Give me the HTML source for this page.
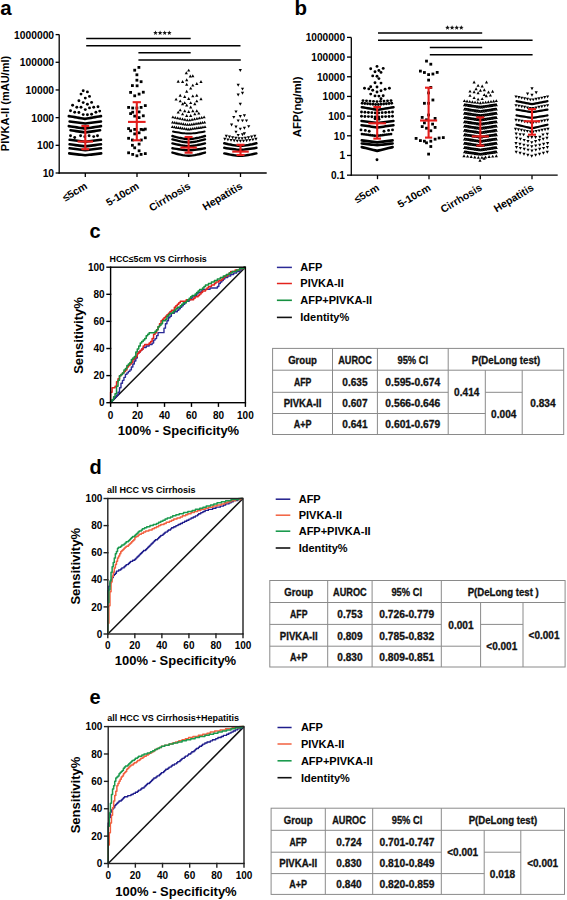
<!DOCTYPE html>
<html><head><meta charset="utf-8"><style>
html,body{margin:0;padding:0;background:#fff;}
body{width:567px;height:900px;overflow:hidden;}
svg{display:block;font-family:"Liberation Sans", sans-serif;}
</style></head><body>
<svg width="567" height="900" viewBox="0 0 567 900">
<text x="0.3" y="14.9" font-size="20.5" font-weight="bold" text-anchor="start" fill="#000" >a</text><text x="294.6" y="14.9" font-size="20.5" font-weight="bold" text-anchor="start" fill="#000" >b</text><text x="89.6" y="237.6" font-size="20" font-weight="bold" text-anchor="start" fill="#000" >c</text><text x="89.6" y="473.7" font-size="20" font-weight="bold" text-anchor="start" fill="#000" >d</text><text x="89.6" y="704.4" font-size="20" font-weight="bold" text-anchor="start" fill="#000" >e</text><g stroke="#000" stroke-width="1.3" fill="none"><line x1="59.2" y1="34.6" x2="59.2" y2="173.65"/><line x1="58.550000000000004" y1="173.0" x2="266.7" y2="173.0"/><line x1="55.6" y1="34.6" x2="59.2" y2="34.6"/><line x1="55.6" y1="62.28" x2="59.2" y2="62.28"/><line x1="55.6" y1="89.96" x2="59.2" y2="89.96"/><line x1="55.6" y1="117.64" x2="59.2" y2="117.64"/><line x1="55.6" y1="145.32" x2="59.2" y2="145.32"/><line x1="55.6" y1="173" x2="59.2" y2="173"/><line x1="85.3" y1="173.0" x2="85.3" y2="177.0"/><line x1="137" y1="173.0" x2="137" y2="177.0"/><line x1="188.6" y1="173.0" x2="188.6" y2="177.0"/><line x1="240.5" y1="173.0" x2="240.5" y2="177.0"/></g><text x="54.1" y="38.5" font-size="10.3" font-weight="bold" text-anchor="end" fill="#000" >1000000</text><text x="54.1" y="66.18" font-size="10.3" font-weight="bold" text-anchor="end" fill="#000" >100000</text><text x="54.1" y="93.86" font-size="10.3" font-weight="bold" text-anchor="end" fill="#000" >10000</text><text x="54.1" y="121.54" font-size="10.3" font-weight="bold" text-anchor="end" fill="#000" >1000</text><text x="54.1" y="149.22" font-size="10.3" font-weight="bold" text-anchor="end" fill="#000" >100</text><text x="54.1" y="176.9" font-size="10.3" font-weight="bold" text-anchor="end" fill="#000" >10</text><text x="9.2" y="103.5" font-size="11" font-weight="bold" text-anchor="middle" fill="#000" transform="rotate(-90 9.2 103.5)">PIVKA-II (mAU/ml)</text><text x="88.1" y="187.9" font-size="10.5" font-weight="bold" text-anchor="end" fill="#000" transform="rotate(-31 88.1 187.9)">≤5cm</text><text x="139.8" y="187.9" font-size="10.5" font-weight="bold" text-anchor="end" fill="#000" transform="rotate(-31 139.8 187.9)">5-10cm</text><text x="191.4" y="187.9" font-size="10.5" font-weight="bold" text-anchor="end" fill="#000" transform="rotate(-31 191.4 187.9)">Cirrhosis</text><text x="243.3" y="187.9" font-size="10.5" font-weight="bold" text-anchor="end" fill="#000" transform="rotate(-31 243.3 187.9)">Hepatitis</text><g stroke="#000" stroke-width="1.5"><line x1="86.2" y1="38.6" x2="190.7" y2="38.6"/><line x1="86.2" y1="45.8" x2="240.5" y2="45.8"/><line x1="138.4" y1="52.8" x2="190.7" y2="52.8"/><line x1="138.4" y1="60.0" x2="240.8" y2="60.0"/></g><polygon points="155.5,30.45 156.12,32.05 157.83,32.14 156.5,33.22 156.94,34.88 155.5,33.95 154.06,34.88 154.5,33.22 153.17,32.14 154.88,32.05" fill="#111"/><polygon points="160.1,30.45 160.72,32.05 162.43,32.14 161.1,33.22 161.54,34.88 160.1,33.95 158.66,34.88 159.1,33.22 157.77,32.14 159.48,32.05" fill="#111"/><polygon points="164.7,30.45 165.32,32.05 167.03,32.14 165.7,33.22 166.14,34.88 164.7,33.95 163.26,34.88 163.7,33.22 162.37,32.14 164.08,32.05" fill="#111"/><polygon points="169.3,30.45 169.92,32.05 171.63,32.14 170.3,33.22 170.74,34.88 169.3,33.95 167.86,34.88 168.3,33.22 166.97,32.14 168.68,32.05" fill="#111"/><g stroke="#000" stroke-width="1.3" fill="none"><line x1="351.3" y1="37.4" x2="351.3" y2="175.81"/><line x1="350.65000000000003" y1="175.16" x2="557.7" y2="175.16"/><line x1="347" y1="37.4" x2="351.3" y2="37.4"/><line x1="347" y1="57.08" x2="351.3" y2="57.08"/><line x1="347" y1="76.76" x2="351.3" y2="76.76"/><line x1="347" y1="96.44" x2="351.3" y2="96.44"/><line x1="347" y1="116.12" x2="351.3" y2="116.12"/><line x1="347" y1="135.8" x2="351.3" y2="135.8"/><line x1="347" y1="155.48" x2="351.3" y2="155.48"/><line x1="347" y1="175.16" x2="351.3" y2="175.16"/><line x1="377.5" y1="175.16" x2="377.5" y2="179.16"/><line x1="429" y1="175.16" x2="429" y2="179.16"/><line x1="480.3" y1="175.16" x2="480.3" y2="179.16"/><line x1="532" y1="175.16" x2="532" y2="179.16"/></g><text x="345" y="41.2" font-size="10.1" font-weight="bold" text-anchor="end" fill="#000" >1000000</text><text x="345" y="60.88" font-size="10.1" font-weight="bold" text-anchor="end" fill="#000" >100000</text><text x="345" y="80.56" font-size="10.1" font-weight="bold" text-anchor="end" fill="#000" >10000</text><text x="345" y="100.24" font-size="10.1" font-weight="bold" text-anchor="end" fill="#000" >1000</text><text x="345" y="119.92" font-size="10.1" font-weight="bold" text-anchor="end" fill="#000" >100</text><text x="345" y="139.6" font-size="10.1" font-weight="bold" text-anchor="end" fill="#000" >10</text><text x="345" y="159.28" font-size="10.1" font-weight="bold" text-anchor="end" fill="#000" >1</text><text x="345" y="178.96" font-size="10.1" font-weight="bold" text-anchor="end" fill="#000" >0.1</text><text x="300.6" y="106.8" font-size="11.4" font-weight="bold" text-anchor="middle" fill="#000" transform="rotate(-90 300.6 106.8)">AFP(ng/ml)</text><text x="379.9" y="189.6" font-size="10.5" font-weight="bold" text-anchor="end" fill="#000" transform="rotate(-31 379.9 189.6)">≤5cm</text><text x="431.4" y="189.6" font-size="10.5" font-weight="bold" text-anchor="end" fill="#000" transform="rotate(-31 431.4 189.6)">5-10cm</text><text x="482.7" y="189.6" font-size="10.5" font-weight="bold" text-anchor="end" fill="#000" transform="rotate(-31 482.7 189.6)">Cirrhosis</text><text x="534.4" y="189.6" font-size="10.5" font-weight="bold" text-anchor="end" fill="#000" transform="rotate(-31 534.4 189.6)">Hepatitis</text><g stroke="#000" stroke-width="1.5"><line x1="378" y1="33" x2="482.2" y2="33"/><line x1="378" y1="40.2" x2="532.6" y2="40.2"/><line x1="429.8" y1="47.6" x2="482.2" y2="47.6"/><line x1="429.8" y1="54.8" x2="532.6" y2="54.8"/></g><polygon points="447.5,25.25 448.12,26.85 449.83,26.94 448.5,28.02 448.94,29.68 447.5,28.75 446.06,29.68 446.5,28.02 445.17,26.94 446.88,26.85" fill="#111"/><polygon points="452.1,25.25 452.72,26.85 454.43,26.94 453.1,28.02 453.54,29.68 452.1,28.75 450.66,29.68 451.1,28.02 449.77,26.94 451.48,26.85" fill="#111"/><polygon points="456.7,25.25 457.32,26.85 459.03,26.94 457.7,28.02 458.14,29.68 456.7,28.75 455.26,29.68 455.7,28.02 454.37,26.94 456.08,26.85" fill="#111"/><polygon points="461.3,25.25 461.92,26.85 463.63,26.94 462.3,28.02 462.74,29.68 461.3,28.75 459.86,29.68 460.3,28.02 458.97,26.94 460.68,26.85" fill="#111"/><g fill="#000"><circle cx="83.2" cy="90.8" r="1.45"/><circle cx="87.4" cy="91.9" r="1.45"/><circle cx="81" cy="94.1" r="1.45"/><circle cx="89.5" cy="96.4" r="1.45"/><circle cx="85.3" cy="98.1" r="1.45"/><circle cx="78.9" cy="100.7" r="1.45"/><circle cx="83.2" cy="102.6" r="1.45"/><circle cx="91.6" cy="102.4" r="1.45"/><circle cx="87.4" cy="104.3" r="1.45"/><circle cx="72.6" cy="105.3" r="1.45"/><circle cx="76.8" cy="107.2" r="1.45"/><circle cx="81" cy="107.2" r="1.45"/><circle cx="89.5" cy="107.9" r="1.45"/><circle cx="93.7" cy="107.2" r="1.45"/><circle cx="98" cy="106.8" r="1.45"/><circle cx="85.3" cy="109.6" r="1.45"/><circle cx="70.5" cy="110.8" r="1.45"/><circle cx="74.7" cy="112.3" r="1.45"/><circle cx="78.9" cy="112.5" r="1.45"/><circle cx="95.9" cy="112.3" r="1.45"/><circle cx="99.7" cy="111.1" r="1.45"/><circle cx="83.2" cy="114.6" r="1.45"/><circle cx="87.4" cy="114.8" r="1.45"/><circle cx="91.6" cy="114.2" r="1.45"/><circle cx="70.5" cy="135.8" r="1.45"/><circle cx="74.7" cy="137.5" r="1.45"/><circle cx="80.6" cy="135.8" r="1.45"/><circle cx="84.8" cy="136.8" r="1.45"/><circle cx="89.1" cy="135.8" r="1.45"/><circle cx="93.7" cy="136.6" r="1.45"/><circle cx="97.5" cy="135.8" r="1.45"/><polyline points="68.8,116.1 70.81,116.45 72.83,116.8 74.84,117.15 76.85,117.5 78.86,117.85 80.88,118.2 82.89,118.55 84.9,118.9 86.91,118.55 88.92,118.2 90.94,117.85 92.95,117.5 94.96,117.15 96.97,116.8 98.99,116.45 101,116.1" fill="none" stroke="#000" stroke-width="2.6" stroke-linecap="round" stroke-linejoin="round"/><polyline points="69.6,121.5 71.56,121.75 73.52,122 75.49,122.25 77.45,122.5 79.41,122.75 81.38,123 83.34,123.25 85.3,123.5 87.26,123.25 89.22,123 91.19,122.75 93.15,122.5 95.11,122.25 97.08,122 99.04,121.75 101,121.5" fill="none" stroke="#000" stroke-width="2.6" stroke-linecap="round" stroke-linejoin="round"/><polyline points="68.8,126.1 70.81,126.41 72.83,126.72 74.84,127.04 76.85,127.35 78.86,127.66 80.88,127.97 82.89,128.29 84.9,128.6 86.91,128.29 88.92,127.97 90.94,127.66 92.95,127.35 94.96,127.04 96.97,126.72 98.99,126.41 101,126.1" fill="none" stroke="#000" stroke-width="2.6" stroke-linecap="round" stroke-linejoin="round"/><polyline points="70.5,130.3 72.35,130.56 74.2,130.83 76.05,131.09 77.9,131.35 79.75,131.61 81.6,131.88 83.45,132.14 85.3,132.4 87.15,132.14 89,131.88 90.85,131.61 92.7,131.35 94.55,131.09 96.4,130.83 98.25,130.56 100.1,130.3" fill="none" stroke="#000" stroke-width="2.6" stroke-linecap="round" stroke-linejoin="round"/><polyline points="69.6,139.8 71.56,140.04 73.52,140.28 75.49,140.51 77.45,140.75 79.41,140.99 81.38,141.22 83.34,141.46 85.3,141.7 87.26,141.46 89.22,141.22 91.19,140.99 93.15,140.75 95.11,140.51 97.08,140.28 99.04,140.04 101,139.8" fill="none" stroke="#000" stroke-width="2.6" stroke-linecap="round" stroke-linejoin="round"/><polyline points="69.6,144.3 71.56,144.56 73.52,144.83 75.49,145.09 77.45,145.35 79.41,145.61 81.38,145.88 83.34,146.14 85.3,146.4 87.26,146.14 89.22,145.88 91.19,145.61 93.15,145.35 95.11,145.09 97.08,144.83 99.04,144.56 101,144.3" fill="none" stroke="#000" stroke-width="2.6" stroke-linecap="round" stroke-linejoin="round"/><polyline points="69.6,148.3 71.56,148.54 73.52,148.78 75.49,149.01 77.45,149.25 79.41,149.49 81.38,149.72 83.34,149.96 85.3,150.2 87.26,149.96 89.22,149.72 91.19,149.49 93.15,149.25 95.11,149.01 97.08,148.78 99.04,148.54 101,148.3" fill="none" stroke="#000" stroke-width="2.6" stroke-linecap="round" stroke-linejoin="round"/><polyline points="69.2,153.4 71.2,153.64 73.2,153.88 75.2,154.11 77.2,154.35 79.2,154.59 81.2,154.83 83.2,155.06 85.2,155.3 87.2,155.06 89.2,154.83 91.2,154.59 93.2,154.35 95.2,154.11 97.2,153.88 99.2,153.64 101.2,153.4" fill="none" stroke="#000" stroke-width="2.6" stroke-linecap="round" stroke-linejoin="round"/><rect x="137.5" y="66" width="2.8" height="2.8"/><rect x="133.3" y="68.8" width="2.8" height="2.8"/><rect x="135.5" y="73.4" width="2.8" height="2.8"/><rect x="135.5" y="78.8" width="2.8" height="2.8"/><rect x="139.7" y="80.3" width="2.8" height="2.8"/><rect x="131" y="84.2" width="2.8" height="2.8"/><rect x="135.7" y="84.4" width="2.8" height="2.8"/><rect x="129.2" y="91" width="2.8" height="2.8"/><rect x="133.3" y="94.4" width="2.8" height="2.8"/><rect x="137.7" y="92.7" width="2.8" height="2.8"/><rect x="141.9" y="90.8" width="2.8" height="2.8"/><rect x="127.2" y="106" width="2.8" height="2.8"/><rect x="131.3" y="106.6" width="2.8" height="2.8"/><rect x="135.5" y="106.6" width="2.8" height="2.8"/><rect x="139.7" y="106" width="2.8" height="2.8"/><rect x="143.9" y="104.2" width="2.8" height="2.8"/><rect x="129.2" y="112.2" width="2.8" height="2.8"/><rect x="131.3" y="110.8" width="2.8" height="2.8"/><rect x="137.7" y="110.5" width="2.8" height="2.8"/><rect x="133.3" y="114.7" width="2.8" height="2.8"/><rect x="137.7" y="116.2" width="2.8" height="2.8"/><rect x="141.9" y="114.4" width="2.8" height="2.8"/><rect x="127.2" y="127.2" width="2.8" height="2.8"/><rect x="129.2" y="129.4" width="2.8" height="2.8"/><rect x="133.3" y="128" width="2.8" height="2.8"/><rect x="139.7" y="128" width="2.8" height="2.8"/><rect x="141.9" y="128.4" width="2.8" height="2.8"/><rect x="143.9" y="127.7" width="2.8" height="2.8"/><rect x="133.3" y="132.5" width="2.8" height="2.8"/><rect x="137.7" y="131.4" width="2.8" height="2.8"/><rect x="127.2" y="136.9" width="2.8" height="2.8"/><rect x="131" y="138.6" width="2.8" height="2.8"/><rect x="139.9" y="138.6" width="2.8" height="2.8"/><rect x="143.9" y="136.4" width="2.8" height="2.8"/><rect x="131" y="143.9" width="2.8" height="2.8"/><rect x="133.3" y="146.4" width="2.8" height="2.8"/><rect x="137.7" y="142.7" width="2.8" height="2.8"/><rect x="137.7" y="149.4" width="2.8" height="2.8"/><rect x="127.2" y="151.4" width="2.8" height="2.8"/><rect x="131.3" y="153" width="2.8" height="2.8"/><rect x="135.5" y="154.4" width="2.8" height="2.8"/><rect x="139.7" y="153" width="2.8" height="2.8"/><rect x="143.9" y="152.2" width="2.8" height="2.8"/><path d="M188.7 68.66L190.3 71.54L187.1 71.54Z"/><path d="M186.3 71.36L187.9 74.24L184.7 74.24Z"/><path d="M190.3 74.56L191.9 77.44L188.7 77.44Z"/><path d="M192.8 74.36L194.4 77.24L191.2 77.24Z"/><path d="M178.2 79.76L179.8 82.64L176.6 82.64Z"/><path d="M182.6 80.06L184.2 82.94L181 82.94Z"/><path d="M186.7 78.26L188.3 81.14L185.1 81.14Z"/><path d="M201 80.06L202.6 82.94L199.4 82.94Z"/><path d="M186.7 82.86L188.3 85.74L185.1 85.74Z"/><path d="M192.8 83.66L194.4 86.54L191.2 86.54Z"/><path d="M196.8 82.06L198.4 84.94L195.2 84.94Z"/><path d="M190.7 86.66L192.3 89.54L189.1 89.54Z"/><path d="M186.7 89.76L188.3 92.64L185.1 92.64Z"/><path d="M180.2 93.86L181.8 96.74L178.6 96.74Z"/><path d="M184.7 95.06L186.3 97.94L183.1 97.94Z"/><path d="M192.8 94.46L194.4 97.34L191.2 97.34Z"/><path d="M196.8 93.86L198.4 96.74L195.2 96.74Z"/><path d="M176.1 97.66L177.7 100.54L174.5 100.54Z"/><path d="M188.7 97.06L190.3 99.94L187.1 99.94Z"/><path d="M201 97.26L202.6 100.14L199.4 100.14Z"/><path d="M180.2 99.46L181.8 102.34L178.6 102.34Z"/><path d="M182.6 102.36L184.2 105.24L181 105.24Z"/><path d="M184.7 101.16L186.3 104.04L183.1 104.04Z"/><path d="M186.7 103.56L188.3 106.44L185.1 106.44Z"/><path d="M190.7 101.16L192.3 104.04L189.1 104.04Z"/><path d="M194.8 102.36L196.4 105.24L193.2 105.24Z"/><path d="M196.8 99.46L198.4 102.34L195.2 102.34Z"/><path d="M190.7 105.56L192.3 108.44L189.1 108.44Z"/><path d="M180.2 108.46L181.8 111.34L178.6 111.34Z"/><path d="M178.2 110.66L179.8 113.54L176.6 113.54Z"/><path d="M184.7 109.26L186.3 112.14L183.1 112.14Z"/><path d="M188.7 110.06L190.3 112.94L187.1 112.94Z"/><path d="M192.8 109.26L194.4 112.14L191.2 112.14Z"/><path d="M196.8 109.26L198.4 112.14L195.2 112.14Z"/><path d="M198.8 111.66L200.4 114.54L197.2 114.54Z"/><path d="M182.6 112.46L184.2 115.34L181 115.34Z"/><path d="M186.7 114.06L188.3 116.94L185.1 116.94Z"/><path d="M190.7 114.06L192.3 116.94L189.1 116.94Z"/><path d="M194.8 112.46L196.4 115.34L193.2 115.34Z"/><path d="M172.9 115.46L174.5 118.34L171.3 118.34Z"/><path d="M175.3 115.95L176.9 118.83L173.7 118.83Z"/><path d="M177.7 116.44L179.3 119.32L176.1 119.32Z"/><path d="M180.1 116.94L181.7 119.82L178.5 119.82Z"/><path d="M182.5 117.43L184.1 120.31L180.9 120.31Z"/><path d="M184.9 117.92L186.5 120.8L183.3 120.8Z"/><path d="M187.3 118.41L188.9 121.29L185.7 121.29Z"/><path d="M189.7 118.41L191.3 121.29L188.1 121.29Z"/><path d="M192.1 117.92L193.7 120.8L190.5 120.8Z"/><path d="M194.5 117.43L196.1 120.31L192.9 120.31Z"/><path d="M196.9 116.94L198.5 119.82L195.3 119.82Z"/><path d="M199.3 116.44L200.9 119.32L197.7 119.32Z"/><path d="M201.7 115.95L203.3 118.83L200.1 118.83Z"/><path d="M204.1 115.46L205.7 118.34L202.5 118.34Z"/><path d="M172.6 120.66L174.2 123.54L171 123.54Z"/><path d="M174.73 120.99L176.33 123.87L173.13 123.87Z"/><path d="M176.87 121.33L178.47 124.21L175.27 124.21Z"/><path d="M179 121.66L180.6 124.54L177.4 124.54Z"/><path d="M181.13 121.99L182.73 124.87L179.53 124.87Z"/><path d="M183.27 122.33L184.87 125.21L181.67 125.21Z"/><path d="M185.4 122.66L187 125.54L183.8 125.54Z"/><path d="M187.53 122.99L189.13 125.87L185.93 125.87Z"/><path d="M189.67 122.99L191.27 125.87L188.07 125.87Z"/><path d="M191.8 122.66L193.4 125.54L190.2 125.54Z"/><path d="M193.93 122.33L195.53 125.21L192.33 125.21Z"/><path d="M196.07 121.99L197.67 124.87L194.47 124.87Z"/><path d="M198.2 121.66L199.8 124.54L196.6 124.54Z"/><path d="M200.33 121.33L201.93 124.21L198.73 124.21Z"/><path d="M202.47 120.99L204.07 123.87L200.87 123.87Z"/><path d="M204.6 120.66L206.2 123.54L203 123.54Z"/><path d="M172.4 125.16L174 128.04L170.8 128.04Z"/><path d="M174.44 125.46L176.04 128.34L172.84 128.34Z"/><path d="M176.47 125.76L178.07 128.64L174.88 128.64Z"/><path d="M178.51 126.06L180.11 128.94L176.91 128.94Z"/><path d="M180.55 126.36L182.15 129.24L178.95 129.24Z"/><path d="M182.59 126.66L184.19 129.54L180.99 129.54Z"/><path d="M184.62 126.96L186.22 129.84L183.03 129.84Z"/><path d="M186.66 127.26L188.26 130.14L185.06 130.14Z"/><path d="M188.7 127.56L190.3 130.44L187.1 130.44Z"/><path d="M190.74 127.26L192.34 130.14L189.14 130.14Z"/><path d="M192.78 126.96L194.38 129.84L191.18 129.84Z"/><path d="M194.81 126.66L196.41 129.54L193.21 129.54Z"/><path d="M196.85 126.36L198.45 129.24L195.25 129.24Z"/><path d="M198.89 126.06L200.49 128.94L197.29 128.94Z"/><path d="M200.93 125.76L202.53 128.64L199.33 128.64Z"/><path d="M202.96 125.46L204.56 128.34L201.36 128.34Z"/><path d="M205 125.16L206.6 128.04L203.4 128.04Z"/><polyline points="173,131.6 174.97,131.96 176.95,132.3 178.93,132.61 180.9,132.89 182.88,133.14 184.85,133.35 186.82,133.51 188.8,133.6 190.78,133.51 192.75,133.35 194.72,133.14 196.7,132.89 198.68,132.61 200.65,132.3 202.62,131.96 204.6,131.6" fill="none" stroke="#000" stroke-width="2.0" stroke-linecap="round" stroke-linejoin="round"/><polyline points="172.4,136 174.44,136.56 176.47,137.09 178.51,137.57 180.55,138 182.59,138.39 184.62,138.71 186.66,138.96 188.7,139.1 190.74,138.96 192.78,138.71 194.81,138.39 196.85,138 198.89,137.57 200.93,137.09 202.96,136.56 205,136" fill="none" stroke="#000" stroke-width="2.4" stroke-linecap="round" stroke-linejoin="round"/><polyline points="172.4,139.4 174.44,139.94 176.47,140.45 178.51,140.92 180.55,141.34 182.59,141.71 184.62,142.03 186.66,142.27 188.7,142.4 190.74,142.27 192.78,142.03 194.81,141.71 196.85,141.34 198.89,140.92 200.93,140.45 202.96,139.94 205,139.4" fill="none" stroke="#000" stroke-width="2.4" stroke-linecap="round" stroke-linejoin="round"/><polyline points="172.4,143.4 174.44,143.89 176.47,144.35 178.51,144.77 180.55,145.15 182.59,145.48 184.62,145.76 186.66,145.98 188.7,146.1 190.74,145.98 192.78,145.76 194.81,145.48 196.85,145.15 198.89,144.77 200.93,144.35 202.96,143.89 205,143.4" fill="none" stroke="#000" stroke-width="2.4" stroke-linecap="round" stroke-linejoin="round"/><polyline points="172.4,148.2 174.44,148.58 176.47,148.94 178.51,149.26 180.55,149.56 182.59,149.82 184.62,150.04 186.66,150.21 188.7,150.3 190.74,150.21 192.78,150.04 194.81,149.82 196.85,149.56 198.89,149.26 200.93,148.94 202.96,148.58 205,148.2" fill="none" stroke="#000" stroke-width="2.4" stroke-linecap="round" stroke-linejoin="round"/><polyline points="172.4,152.6 174.44,153.18 176.47,153.72 178.51,154.22 180.55,154.67 182.59,155.07 184.62,155.4 186.66,155.66 188.7,155.8 190.74,155.66 192.78,155.4 194.81,155.07 196.85,154.67 198.89,154.22 200.93,153.72 202.96,153.18 205,152.6" fill="none" stroke="#000" stroke-width="2.4" stroke-linecap="round" stroke-linejoin="round"/><path d="M238.7 69.06L241.9 69.06L240.3 71.94Z"/><path d="M236.6 83.76L239.8 83.76L238.2 86.64Z"/><path d="M240.9 87.66L244.1 87.66L242.5 90.54Z"/><path d="M240.9 91.76L244.1 91.76L242.5 94.64Z"/><path d="M236.6 93.56L239.8 93.56L238.2 96.44Z"/><path d="M238.7 102.86L241.9 102.86L240.3 105.74Z"/><path d="M234.4 110.46L237.6 110.46L236 113.34Z"/><path d="M232.2 115.96L235.4 115.96L233.8 118.84Z"/><path d="M238.7 115.06L241.9 115.06L240.3 117.94Z"/><path d="M242.8 114.26L246 114.26L244.4 117.14Z"/><path d="M236.6 119.46L239.8 119.46L238.2 122.34Z"/><path d="M240.9 119.46L244.1 119.46L242.5 122.34Z"/><path d="M244.9 119.46L248.1 119.46L246.5 122.34Z"/><path d="M230 123.56L233.2 123.56L231.6 126.44Z"/><path d="M234.4 125.56L237.6 125.56L236 128.44Z"/><path d="M238.7 127.66L241.9 127.66L240.3 130.54Z"/><path d="M242.8 126.86L246 126.86L244.4 129.74Z"/><path d="M247.1 125.16L250.3 125.16L248.7 128.04Z"/><path d="M234.4 130.66L237.6 130.66L236 133.54Z"/><path d="M236.6 133.96L239.8 133.96L238.2 136.84Z"/><path d="M240.9 133.36L244.1 133.36L242.5 136.24Z"/><path d="M242.8 132.26L246 132.26L244.4 135.14Z"/><path d="M224.7 134.86L227.9 134.86L226.3 137.74Z"/><path d="M227.87 135.61L231.07 135.61L229.47 138.49Z"/><path d="M231.03 136.27L234.23 136.27L232.63 139.15Z"/><path d="M234.2 136.8L237.4 136.8L235.8 139.68Z"/><path d="M237.37 137.17L240.57 137.17L238.97 140.05Z"/><path d="M240.53 137.17L243.73 137.17L242.13 140.05Z"/><path d="M243.7 136.8L246.9 136.8L245.3 139.68Z"/><path d="M246.87 136.27L250.07 136.27L248.47 139.15Z"/><path d="M250.03 135.61L253.23 135.61L251.63 138.49Z"/><path d="M253.2 134.86L256.4 134.86L254.8 137.74Z"/><path d="M223.2 137.86L226.4 137.86L224.8 140.74Z"/><path d="M226.32 138.43L229.52 138.43L227.92 141.31Z"/><path d="M229.44 138.93L232.64 138.93L231.04 141.81Z"/><path d="M232.56 139.35L235.76 139.35L234.16 142.23Z"/><path d="M235.68 139.68L238.88 139.68L237.28 142.56Z"/><path d="M238.8 139.86L242 139.86L240.4 142.74Z"/><path d="M241.92 139.68L245.12 139.68L243.52 142.56Z"/><path d="M245.04 139.35L248.24 139.35L246.64 142.23Z"/><path d="M248.16 138.93L251.36 138.93L249.76 141.81Z"/><path d="M251.28 138.43L254.48 138.43L252.88 141.31Z"/><path d="M254.4 137.86L257.6 137.86L256 140.74Z"/><polyline points="224.3,143.3 226.31,143.75 228.31,144.18 230.32,144.56 232.32,144.92 234.33,145.23 236.34,145.49 238.34,145.69 240.35,145.8 242.36,145.69 244.36,145.49 246.37,145.23 248.38,144.92 250.38,144.56 252.39,144.18 254.39,143.75 256.4,143.3" fill="none" stroke="#000" stroke-width="2.5" stroke-linecap="round" stroke-linejoin="round"/><polyline points="224.3,147.8 226.31,148.16 228.31,148.5 230.32,148.81 232.32,149.09 234.33,149.34 236.34,149.55 238.34,149.71 240.35,149.8 242.36,149.71 244.36,149.55 246.37,149.34 248.38,149.09 250.38,148.81 252.39,148.5 254.39,148.16 256.4,147.8" fill="none" stroke="#000" stroke-width="2.5" stroke-linecap="round" stroke-linejoin="round"/><polyline points="224.3,153.4 226.31,153.84 228.31,154.24 230.32,154.61 232.32,154.95 234.33,155.25 236.34,155.5 238.34,155.69 240.35,155.8 242.36,155.69 244.36,155.5 246.37,155.25 248.38,154.95 250.38,154.61 252.39,154.24 254.39,153.84 256.4,153.4" fill="none" stroke="#000" stroke-width="2.5" stroke-linecap="round" stroke-linejoin="round"/><circle cx="377" cy="66.4" r="1.45"/><circle cx="370.7" cy="68.7" r="1.45"/><circle cx="383.2" cy="68.4" r="1.45"/><circle cx="375" cy="71.8" r="1.45"/><circle cx="378.9" cy="70.5" r="1.45"/><circle cx="381" cy="72.4" r="1.45"/><circle cx="372.7" cy="75.9" r="1.45"/><circle cx="377" cy="76.3" r="1.45"/><circle cx="378.9" cy="78.6" r="1.45"/><circle cx="375" cy="82.7" r="1.45"/><circle cx="381" cy="83.1" r="1.45"/><circle cx="364.5" cy="88.3" r="1.45"/><circle cx="368.8" cy="88.9" r="1.45"/><circle cx="370.7" cy="86.8" r="1.45"/><circle cx="377" cy="87" r="1.45"/><circle cx="372.7" cy="90.3" r="1.45"/><circle cx="381" cy="90.7" r="1.45"/><circle cx="385.1" cy="89.3" r="1.45"/><circle cx="389.4" cy="88.3" r="1.45"/><circle cx="377" cy="92" r="1.45"/><circle cx="370.7" cy="94.1" r="1.45"/><circle cx="375" cy="95.9" r="1.45"/><circle cx="378.9" cy="96.1" r="1.45"/><circle cx="383.2" cy="95.7" r="1.45"/><circle cx="381" cy="98.8" r="1.45"/><circle cx="377" cy="159.8" r="1.45"/><circle cx="363" cy="100.6" r="1.45"/><circle cx="366.5" cy="100.85" r="1.45"/><circle cx="370" cy="101.1" r="1.45"/><circle cx="373.5" cy="101.35" r="1.45"/><circle cx="377" cy="101.6" r="1.45"/><circle cx="380.5" cy="101.35" r="1.45"/><circle cx="384" cy="101.1" r="1.45"/><circle cx="387.5" cy="100.85" r="1.45"/><circle cx="391" cy="100.6" r="1.45"/><circle cx="362.2" cy="103.2" r="1.45"/><circle cx="364.88" cy="103.45" r="1.45"/><circle cx="367.56" cy="103.71" r="1.45"/><circle cx="370.25" cy="103.96" r="1.45"/><circle cx="372.93" cy="104.22" r="1.45"/><circle cx="375.61" cy="104.47" r="1.45"/><circle cx="378.29" cy="104.47" r="1.45"/><circle cx="380.97" cy="104.22" r="1.45"/><circle cx="383.65" cy="103.96" r="1.45"/><circle cx="386.34" cy="103.71" r="1.45"/><circle cx="389.02" cy="103.45" r="1.45"/><circle cx="391.7" cy="103.2" r="1.45"/><polyline points="361.8,107.2 363.78,107.54 365.76,107.88 367.74,108.21 369.73,108.55 371.71,108.89 373.69,109.23 375.67,109.56 377.65,109.9 379.63,109.56 381.61,109.22 383.59,108.89 385.57,108.55 387.56,108.21 389.54,107.88 391.52,107.54 393.5,107.2" fill="none" stroke="#000" stroke-width="2.5" stroke-linecap="round" stroke-linejoin="round"/><circle cx="361.5" cy="112" r="1.45"/><circle cx="364.94" cy="112.22" r="1.45"/><circle cx="368.39" cy="112.44" r="1.45"/><circle cx="371.83" cy="112.67" r="1.45"/><circle cx="375.28" cy="112.89" r="1.45"/><circle cx="378.72" cy="112.89" r="1.45"/><circle cx="382.17" cy="112.67" r="1.45"/><circle cx="385.61" cy="112.44" r="1.45"/><circle cx="389.06" cy="112.22" r="1.45"/><circle cx="392.5" cy="112" r="1.45"/><circle cx="361.5" cy="116.3" r="1.45"/><circle cx="364.94" cy="116.46" r="1.45"/><circle cx="368.39" cy="116.61" r="1.45"/><circle cx="371.83" cy="116.77" r="1.45"/><circle cx="375.28" cy="116.92" r="1.45"/><circle cx="378.72" cy="116.92" r="1.45"/><circle cx="382.17" cy="116.77" r="1.45"/><circle cx="385.61" cy="116.61" r="1.45"/><circle cx="389.06" cy="116.46" r="1.45"/><circle cx="392.5" cy="116.3" r="1.45"/><circle cx="375" cy="118.8" r="1.45"/><circle cx="379" cy="119.2" r="1.45"/><polyline points="361.5,121 363.5,121.24 365.5,121.47 367.5,121.71 369.5,121.95 371.5,122.19 373.5,122.43 375.5,122.66 377.5,122.9 379.5,122.66 381.5,122.43 383.5,122.19 385.5,121.95 387.5,121.71 389.5,121.47 391.5,121.24 393.5,121" fill="none" stroke="#000" stroke-width="2.5" stroke-linecap="round" stroke-linejoin="round"/><polyline points="361.5,125.2 363.5,125.49 365.5,125.78 367.5,126.06 369.5,126.35 371.5,126.64 373.5,126.92 375.5,127.21 377.5,127.5 379.5,127.21 381.5,126.92 383.5,126.64 385.5,126.35 387.5,126.06 389.5,125.78 391.5,125.49 393.5,125.2" fill="none" stroke="#000" stroke-width="2.5" stroke-linecap="round" stroke-linejoin="round"/><circle cx="361" cy="129.9" r="1.45"/><circle cx="365.3" cy="130.4" r="1.45"/><circle cx="369.2" cy="131.2" r="1.45"/><circle cx="384" cy="131.2" r="1.45"/><circle cx="388.6" cy="130.4" r="1.45"/><circle cx="392.5" cy="129.9" r="1.45"/><circle cx="362" cy="134.1" r="1.45"/><circle cx="364.07" cy="134.36" r="1.45"/><circle cx="366.14" cy="134.61" r="1.45"/><circle cx="368.21" cy="134.87" r="1.45"/><circle cx="370.29" cy="135.13" r="1.45"/><circle cx="372.36" cy="135.39" r="1.45"/><circle cx="374.43" cy="135.64" r="1.45"/><circle cx="376.5" cy="135.9" r="1.45"/><circle cx="378.57" cy="135.64" r="1.45"/><circle cx="380.64" cy="135.39" r="1.45"/><circle cx="382.71" cy="135.13" r="1.45"/><circle cx="384.79" cy="134.87" r="1.45"/><circle cx="386.86" cy="134.61" r="1.45"/><circle cx="388.93" cy="134.36" r="1.45"/><circle cx="391" cy="134.1" r="1.45"/><polyline points="361.8,140.4 363.73,140.65 365.65,140.9 367.57,141.15 369.5,141.4 371.43,141.65 373.35,141.9 375.28,142.15 377.2,142.4 379.12,142.15 381.05,141.9 382.98,141.65 384.9,141.4 386.83,141.15 388.75,140.9 390.68,140.65 392.6,140.4" fill="none" stroke="#000" stroke-width="2.7" stroke-linecap="round" stroke-linejoin="round"/><polyline points="361.8,143.5 363.73,143.71 365.65,143.92 367.57,144.14 369.5,144.35 371.43,144.56 373.35,144.77 375.28,144.99 377.2,145.2 379.12,144.99 381.05,144.78 382.98,144.56 384.9,144.35 386.83,144.14 388.75,143.93 390.68,143.71 392.6,143.5" fill="none" stroke="#000" stroke-width="2.7" stroke-linecap="round" stroke-linejoin="round"/><polyline points="361.8,147.1 363.73,147.57 365.65,148.05 367.57,148.52 369.5,149 371.43,149.47 373.35,149.95 375.28,150.43 377.2,150.9 379.12,150.43 381.05,149.95 382.98,149.47 384.9,149 386.83,148.53 388.75,148.05 390.68,147.58 392.6,147.1" fill="none" stroke="#000" stroke-width="2.7" stroke-linecap="round" stroke-linejoin="round"/><rect x="425.1" y="59.7" width="2.8" height="2.8"/><rect x="429.4" y="62.8" width="2.8" height="2.8"/><rect x="419" y="69.7" width="2.8" height="2.8"/><rect x="423" y="71.1" width="2.8" height="2.8"/><rect x="427.2" y="73.2" width="2.8" height="2.8"/><rect x="431.5" y="72.6" width="2.8" height="2.8"/><rect x="435.8" y="71" width="2.8" height="2.8"/><rect x="427.2" y="78.7" width="2.8" height="2.8"/><rect x="429.4" y="86" width="2.8" height="2.8"/><rect x="427.2" y="91.5" width="2.8" height="2.8"/><rect x="431.5" y="98.6" width="2.8" height="2.8"/><rect x="423" y="101.9" width="2.8" height="2.8"/><rect x="427.2" y="101.9" width="2.8" height="2.8"/><rect x="427.2" y="113.6" width="2.8" height="2.8"/><rect x="420.8" y="116" width="2.8" height="2.8"/><rect x="433.7" y="117" width="2.8" height="2.8"/><rect x="425.1" y="118.4" width="2.8" height="2.8"/><rect x="423" y="121.5" width="2.8" height="2.8"/><rect x="431.2" y="122.7" width="2.8" height="2.8"/><rect x="420.8" y="125.2" width="2.8" height="2.8"/><rect x="425.1" y="126.8" width="2.8" height="2.8"/><rect x="433.7" y="126" width="2.8" height="2.8"/><rect x="429.4" y="129.4" width="2.8" height="2.8"/><rect x="414.7" y="137" width="2.8" height="2.8"/><rect x="419" y="139.2" width="2.8" height="2.8"/><rect x="423" y="139.8" width="2.8" height="2.8"/><rect x="425.1" y="141.4" width="2.8" height="2.8"/><rect x="429.4" y="139.8" width="2.8" height="2.8"/><rect x="433.7" y="137.8" width="2.8" height="2.8"/><rect x="437.7" y="136.6" width="2.8" height="2.8"/><rect x="441.9" y="136.2" width="2.8" height="2.8"/><rect x="429.4" y="145.1" width="2.8" height="2.8"/><rect x="427.2" y="152.7" width="2.8" height="2.8"/><path d="M474.1 80.56L475.7 83.44L472.5 83.44Z"/><path d="M486.5 80.56L488.1 83.44L484.9 83.44Z"/><path d="M478.1 83.96L479.7 86.84L476.5 86.84Z"/><path d="M482.2 84.56L483.8 87.44L480.6 87.44Z"/><path d="M476.1 87.26L477.7 90.14L474.5 90.14Z"/><path d="M480.4 88.76L482 91.64L478.8 91.64Z"/><path d="M484.3 88.26L485.9 91.14L482.7 91.14Z"/><path d="M470 89.66L471.6 92.54L468.4 92.54Z"/><path d="M474.1 90.26L475.7 93.14L472.5 93.14Z"/><path d="M478.1 91.36L479.7 94.24L476.5 94.24Z"/><path d="M488.5 90.56L490.1 93.44L486.9 93.44Z"/><path d="M492.6 89.86L494.2 92.74L491 92.74Z"/><path d="M470 93.96L471.6 96.84L468.4 96.84Z"/><path d="M484.3 93.16L485.9 96.04L482.7 96.04Z"/><path d="M486.3 94.26L487.9 97.14L484.7 97.14Z"/><path d="M490.4 93.66L492 96.54L488.8 96.54Z"/><path d="M474.1 96.16L475.7 99.04L472.5 99.04Z"/><path d="M478.1 97.66L479.7 100.54L476.5 100.54Z"/><path d="M482.2 97.16L483.8 100.04L480.6 100.04Z"/><path d="M480 158.76L481.6 161.64L478.4 161.64Z"/><path d="M484.1 156.86L485.7 159.74L482.5 159.74Z"/><path d="M464.4 99.16L466 102.04L462.8 102.04Z"/><path d="M467.06 99.53L468.66 102.41L465.46 102.41Z"/><path d="M469.72 99.89L471.32 102.77L468.12 102.77Z"/><path d="M472.38 100.26L473.98 103.14L470.77 103.14Z"/><path d="M475.03 100.63L476.63 103.51L473.43 103.51Z"/><path d="M477.69 100.99L479.29 103.87L476.09 103.87Z"/><path d="M480.35 101.36L481.95 104.24L478.75 104.24Z"/><path d="M483.01 100.99L484.61 103.87L481.41 103.87Z"/><path d="M485.67 100.63L487.27 103.51L484.07 103.51Z"/><path d="M488.32 100.26L489.93 103.14L486.72 103.14Z"/><path d="M490.98 99.89L492.58 102.77L489.38 102.77Z"/><path d="M493.64 99.53L495.24 102.41L492.04 102.41Z"/><path d="M496.3 99.16L497.9 102.04L494.7 102.04Z"/><polyline points="464.8,104.3 466.75,104.6 468.7,104.9 470.65,105.2 472.6,105.5 474.55,105.8 476.5,106.1 478.45,106.4 480.4,106.7 482.35,106.4 484.3,106.1 486.25,105.8 488.2,105.5 490.15,105.2 492.1,104.9 494.05,104.6 496,104.3" fill="none" stroke="#000" stroke-width="1.7" stroke-linecap="round" stroke-linejoin="round"/><path d="M464.5 103.36L466.1 106.24L462.9 106.24Z"/><path d="M466.62 103.68L468.22 106.56L465.02 106.56Z"/><path d="M468.74 104L470.34 106.88L467.14 106.88Z"/><path d="M470.86 104.32L472.46 107.2L469.26 107.2Z"/><path d="M472.98 104.64L474.58 107.52L471.38 107.52Z"/><path d="M475.1 104.96L476.7 107.84L473.5 107.84Z"/><path d="M477.22 105.28L478.82 108.16L475.62 108.16Z"/><path d="M479.34 105.6L480.94 108.48L477.74 108.48Z"/><path d="M481.46 105.6L483.06 108.48L479.86 108.48Z"/><path d="M483.58 105.28L485.18 108.16L481.98 108.16Z"/><path d="M485.7 104.96L487.3 107.84L484.1 107.84Z"/><path d="M487.82 104.64L489.42 107.52L486.22 107.52Z"/><path d="M489.94 104.32L491.54 107.2L488.34 107.2Z"/><path d="M492.06 104L493.66 106.88L490.46 106.88Z"/><path d="M494.18 103.68L495.78 106.56L492.58 106.56Z"/><path d="M496.3 103.36L497.9 106.24L494.7 106.24Z"/><polyline points="464.8,108.6 466.75,108.9 468.7,109.2 470.65,109.5 472.6,109.8 474.55,110.1 476.5,110.4 478.45,110.7 480.4,111 482.35,110.7 484.3,110.4 486.25,110.1 488.2,109.8 490.15,109.5 492.1,109.2 494.05,108.9 496,108.6" fill="none" stroke="#000" stroke-width="1.7" stroke-linecap="round" stroke-linejoin="round"/><path d="M464.5 107.66L466.1 110.54L462.9 110.54Z"/><path d="M466.62 107.98L468.22 110.86L465.02 110.86Z"/><path d="M468.74 108.3L470.34 111.18L467.14 111.18Z"/><path d="M470.86 108.62L472.46 111.5L469.26 111.5Z"/><path d="M472.98 108.94L474.58 111.82L471.38 111.82Z"/><path d="M475.1 109.26L476.7 112.14L473.5 112.14Z"/><path d="M477.22 109.58L478.82 112.46L475.62 112.46Z"/><path d="M479.34 109.9L480.94 112.78L477.74 112.78Z"/><path d="M481.46 109.9L483.06 112.78L479.86 112.78Z"/><path d="M483.58 109.58L485.18 112.46L481.98 112.46Z"/><path d="M485.7 109.26L487.3 112.14L484.1 112.14Z"/><path d="M487.82 108.94L489.42 111.82L486.22 111.82Z"/><path d="M489.94 108.62L491.54 111.5L488.34 111.5Z"/><path d="M492.06 108.3L493.66 111.18L490.46 111.18Z"/><path d="M494.18 107.98L495.78 110.86L492.58 110.86Z"/><path d="M496.3 107.66L497.9 110.54L494.7 110.54Z"/><polyline points="464.8,112.8 466.75,113.1 468.7,113.4 470.65,113.7 472.6,114 474.55,114.3 476.5,114.6 478.45,114.9 480.4,115.2 482.35,114.9 484.3,114.6 486.25,114.3 488.2,114 490.15,113.7 492.1,113.4 494.05,113.1 496,112.8" fill="none" stroke="#000" stroke-width="1.7" stroke-linecap="round" stroke-linejoin="round"/><path d="M464.5 111.86L466.1 114.74L462.9 114.74Z"/><path d="M466.62 112.18L468.22 115.06L465.02 115.06Z"/><path d="M468.74 112.5L470.34 115.38L467.14 115.38Z"/><path d="M470.86 112.82L472.46 115.7L469.26 115.7Z"/><path d="M472.98 113.14L474.58 116.02L471.38 116.02Z"/><path d="M475.1 113.46L476.7 116.34L473.5 116.34Z"/><path d="M477.22 113.78L478.82 116.66L475.62 116.66Z"/><path d="M479.34 114.1L480.94 116.98L477.74 116.98Z"/><path d="M481.46 114.1L483.06 116.98L479.86 116.98Z"/><path d="M483.58 113.78L485.18 116.66L481.98 116.66Z"/><path d="M485.7 113.46L487.3 116.34L484.1 116.34Z"/><path d="M487.82 113.14L489.42 116.02L486.22 116.02Z"/><path d="M489.94 112.82L491.54 115.7L488.34 115.7Z"/><path d="M492.06 112.5L493.66 115.38L490.46 115.38Z"/><path d="M494.18 112.18L495.78 115.06L492.58 115.06Z"/><path d="M496.3 111.86L497.9 114.74L494.7 114.74Z"/><polyline points="464.8,117.1 466.75,117.4 468.7,117.7 470.65,118 472.6,118.3 474.55,118.6 476.5,118.9 478.45,119.2 480.4,119.5 482.35,119.2 484.3,118.9 486.25,118.6 488.2,118.3 490.15,118 492.1,117.7 494.05,117.4 496,117.1" fill="none" stroke="#000" stroke-width="1.7" stroke-linecap="round" stroke-linejoin="round"/><path d="M464.5 116.16L466.1 119.04L462.9 119.04Z"/><path d="M466.62 116.48L468.22 119.36L465.02 119.36Z"/><path d="M468.74 116.8L470.34 119.68L467.14 119.68Z"/><path d="M470.86 117.12L472.46 120L469.26 120Z"/><path d="M472.98 117.44L474.58 120.32L471.38 120.32Z"/><path d="M475.1 117.76L476.7 120.64L473.5 120.64Z"/><path d="M477.22 118.08L478.82 120.96L475.62 120.96Z"/><path d="M479.34 118.4L480.94 121.28L477.74 121.28Z"/><path d="M481.46 118.4L483.06 121.28L479.86 121.28Z"/><path d="M483.58 118.08L485.18 120.96L481.98 120.96Z"/><path d="M485.7 117.76L487.3 120.64L484.1 120.64Z"/><path d="M487.82 117.44L489.42 120.32L486.22 120.32Z"/><path d="M489.94 117.12L491.54 120L488.34 120Z"/><path d="M492.06 116.8L493.66 119.68L490.46 119.68Z"/><path d="M494.18 116.48L495.78 119.36L492.58 119.36Z"/><path d="M496.3 116.16L497.9 119.04L494.7 119.04Z"/><polyline points="464.8,121.3 466.75,121.6 468.7,121.9 470.65,122.2 472.6,122.5 474.55,122.8 476.5,123.1 478.45,123.4 480.4,123.7 482.35,123.4 484.3,123.1 486.25,122.8 488.2,122.5 490.15,122.2 492.1,121.9 494.05,121.6 496,121.3" fill="none" stroke="#000" stroke-width="1.7" stroke-linecap="round" stroke-linejoin="round"/><path d="M464.5 120.36L466.1 123.24L462.9 123.24Z"/><path d="M466.62 120.68L468.22 123.56L465.02 123.56Z"/><path d="M468.74 121L470.34 123.88L467.14 123.88Z"/><path d="M470.86 121.32L472.46 124.2L469.26 124.2Z"/><path d="M472.98 121.64L474.58 124.52L471.38 124.52Z"/><path d="M475.1 121.96L476.7 124.84L473.5 124.84Z"/><path d="M477.22 122.28L478.82 125.16L475.62 125.16Z"/><path d="M479.34 122.6L480.94 125.48L477.74 125.48Z"/><path d="M481.46 122.6L483.06 125.48L479.86 125.48Z"/><path d="M483.58 122.28L485.18 125.16L481.98 125.16Z"/><path d="M485.7 121.96L487.3 124.84L484.1 124.84Z"/><path d="M487.82 121.64L489.42 124.52L486.22 124.52Z"/><path d="M489.94 121.32L491.54 124.2L488.34 124.2Z"/><path d="M492.06 121L493.66 123.88L490.46 123.88Z"/><path d="M494.18 120.68L495.78 123.56L492.58 123.56Z"/><path d="M496.3 120.36L497.9 123.24L494.7 123.24Z"/><polyline points="464.8,125.6 466.75,125.9 468.7,126.2 470.65,126.5 472.6,126.8 474.55,127.1 476.5,127.4 478.45,127.7 480.4,128 482.35,127.7 484.3,127.4 486.25,127.1 488.2,126.8 490.15,126.5 492.1,126.2 494.05,125.9 496,125.6" fill="none" stroke="#000" stroke-width="1.7" stroke-linecap="round" stroke-linejoin="round"/><path d="M464.5 124.66L466.1 127.54L462.9 127.54Z"/><path d="M466.62 124.98L468.22 127.86L465.02 127.86Z"/><path d="M468.74 125.3L470.34 128.18L467.14 128.18Z"/><path d="M470.86 125.62L472.46 128.5L469.26 128.5Z"/><path d="M472.98 125.94L474.58 128.82L471.38 128.82Z"/><path d="M475.1 126.26L476.7 129.14L473.5 129.14Z"/><path d="M477.22 126.58L478.82 129.46L475.62 129.46Z"/><path d="M479.34 126.9L480.94 129.78L477.74 129.78Z"/><path d="M481.46 126.9L483.06 129.78L479.86 129.78Z"/><path d="M483.58 126.58L485.18 129.46L481.98 129.46Z"/><path d="M485.7 126.26L487.3 129.14L484.1 129.14Z"/><path d="M487.82 125.94L489.42 128.82L486.22 128.82Z"/><path d="M489.94 125.62L491.54 128.5L488.34 128.5Z"/><path d="M492.06 125.3L493.66 128.18L490.46 128.18Z"/><path d="M494.18 124.98L495.78 127.86L492.58 127.86Z"/><path d="M496.3 124.66L497.9 127.54L494.7 127.54Z"/><polyline points="464.8,129.9 466.75,130.2 468.7,130.5 470.65,130.8 472.6,131.1 474.55,131.4 476.5,131.7 478.45,132 480.4,132.3 482.35,132 484.3,131.7 486.25,131.4 488.2,131.1 490.15,130.8 492.1,130.5 494.05,130.2 496,129.9" fill="none" stroke="#000" stroke-width="1.7" stroke-linecap="round" stroke-linejoin="round"/><path d="M464.5 128.96L466.1 131.84L462.9 131.84Z"/><path d="M466.62 129.28L468.22 132.16L465.02 132.16Z"/><path d="M468.74 129.6L470.34 132.48L467.14 132.48Z"/><path d="M470.86 129.92L472.46 132.8L469.26 132.8Z"/><path d="M472.98 130.24L474.58 133.12L471.38 133.12Z"/><path d="M475.1 130.56L476.7 133.44L473.5 133.44Z"/><path d="M477.22 130.88L478.82 133.76L475.62 133.76Z"/><path d="M479.34 131.2L480.94 134.08L477.74 134.08Z"/><path d="M481.46 131.2L483.06 134.08L479.86 134.08Z"/><path d="M483.58 130.88L485.18 133.76L481.98 133.76Z"/><path d="M485.7 130.56L487.3 133.44L484.1 133.44Z"/><path d="M487.82 130.24L489.42 133.12L486.22 133.12Z"/><path d="M489.94 129.92L491.54 132.8L488.34 132.8Z"/><path d="M492.06 129.6L493.66 132.48L490.46 132.48Z"/><path d="M494.18 129.28L495.78 132.16L492.58 132.16Z"/><path d="M496.3 128.96L497.9 131.84L494.7 131.84Z"/><polyline points="464.8,134.2 466.75,134.5 468.7,134.8 470.65,135.1 472.6,135.4 474.55,135.7 476.5,136 478.45,136.3 480.4,136.6 482.35,136.3 484.3,136 486.25,135.7 488.2,135.4 490.15,135.1 492.1,134.8 494.05,134.5 496,134.2" fill="none" stroke="#000" stroke-width="1.7" stroke-linecap="round" stroke-linejoin="round"/><path d="M464.5 133.26L466.1 136.14L462.9 136.14Z"/><path d="M466.62 133.58L468.22 136.46L465.02 136.46Z"/><path d="M468.74 133.9L470.34 136.78L467.14 136.78Z"/><path d="M470.86 134.22L472.46 137.1L469.26 137.1Z"/><path d="M472.98 134.54L474.58 137.42L471.38 137.42Z"/><path d="M475.1 134.86L476.7 137.74L473.5 137.74Z"/><path d="M477.22 135.18L478.82 138.06L475.62 138.06Z"/><path d="M479.34 135.5L480.94 138.38L477.74 138.38Z"/><path d="M481.46 135.5L483.06 138.38L479.86 138.38Z"/><path d="M483.58 135.18L485.18 138.06L481.98 138.06Z"/><path d="M485.7 134.86L487.3 137.74L484.1 137.74Z"/><path d="M487.82 134.54L489.42 137.42L486.22 137.42Z"/><path d="M489.94 134.22L491.54 137.1L488.34 137.1Z"/><path d="M492.06 133.9L493.66 136.78L490.46 136.78Z"/><path d="M494.18 133.58L495.78 136.46L492.58 136.46Z"/><path d="M496.3 133.26L497.9 136.14L494.7 136.14Z"/><polyline points="464.8,138.5 466.75,138.8 468.7,139.1 470.65,139.4 472.6,139.7 474.55,140 476.5,140.3 478.45,140.6 480.4,140.9 482.35,140.6 484.3,140.3 486.25,140 488.2,139.7 490.15,139.4 492.1,139.1 494.05,138.8 496,138.5" fill="none" stroke="#000" stroke-width="1.7" stroke-linecap="round" stroke-linejoin="round"/><path d="M464.5 137.56L466.1 140.44L462.9 140.44Z"/><path d="M466.62 137.88L468.22 140.76L465.02 140.76Z"/><path d="M468.74 138.2L470.34 141.08L467.14 141.08Z"/><path d="M470.86 138.52L472.46 141.4L469.26 141.4Z"/><path d="M472.98 138.84L474.58 141.72L471.38 141.72Z"/><path d="M475.1 139.16L476.7 142.04L473.5 142.04Z"/><path d="M477.22 139.48L478.82 142.36L475.62 142.36Z"/><path d="M479.34 139.8L480.94 142.68L477.74 142.68Z"/><path d="M481.46 139.8L483.06 142.68L479.86 142.68Z"/><path d="M483.58 139.48L485.18 142.36L481.98 142.36Z"/><path d="M485.7 139.16L487.3 142.04L484.1 142.04Z"/><path d="M487.82 138.84L489.42 141.72L486.22 141.72Z"/><path d="M489.94 138.52L491.54 141.4L488.34 141.4Z"/><path d="M492.06 138.2L493.66 141.08L490.46 141.08Z"/><path d="M494.18 137.88L495.78 140.76L492.58 140.76Z"/><path d="M496.3 137.56L497.9 140.44L494.7 140.44Z"/><polyline points="464.8,142.8 466.75,143.1 468.7,143.4 470.65,143.7 472.6,144 474.55,144.3 476.5,144.6 478.45,144.9 480.4,145.2 482.35,144.9 484.3,144.6 486.25,144.3 488.2,144 490.15,143.7 492.1,143.4 494.05,143.1 496,142.8" fill="none" stroke="#000" stroke-width="1.7" stroke-linecap="round" stroke-linejoin="round"/><path d="M464.5 141.86L466.1 144.74L462.9 144.74Z"/><path d="M466.62 142.18L468.22 145.06L465.02 145.06Z"/><path d="M468.74 142.5L470.34 145.38L467.14 145.38Z"/><path d="M470.86 142.82L472.46 145.7L469.26 145.7Z"/><path d="M472.98 143.14L474.58 146.02L471.38 146.02Z"/><path d="M475.1 143.46L476.7 146.34L473.5 146.34Z"/><path d="M477.22 143.78L478.82 146.66L475.62 146.66Z"/><path d="M479.34 144.1L480.94 146.98L477.74 146.98Z"/><path d="M481.46 144.1L483.06 146.98L479.86 146.98Z"/><path d="M483.58 143.78L485.18 146.66L481.98 146.66Z"/><path d="M485.7 143.46L487.3 146.34L484.1 146.34Z"/><path d="M487.82 143.14L489.42 146.02L486.22 146.02Z"/><path d="M489.94 142.82L491.54 145.7L488.34 145.7Z"/><path d="M492.06 142.5L493.66 145.38L490.46 145.38Z"/><path d="M494.18 142.18L495.78 145.06L492.58 145.06Z"/><path d="M496.3 141.86L497.9 144.74L494.7 144.74Z"/><polyline points="464.8,147.1 466.75,147.4 468.7,147.7 470.65,148 472.6,148.3 474.55,148.6 476.5,148.9 478.45,149.2 480.4,149.5 482.35,149.2 484.3,148.9 486.25,148.6 488.2,148.3 490.15,148 492.1,147.7 494.05,147.4 496,147.1" fill="none" stroke="#000" stroke-width="1.7" stroke-linecap="round" stroke-linejoin="round"/><path d="M464.5 146.16L466.1 149.04L462.9 149.04Z"/><path d="M466.62 146.48L468.22 149.36L465.02 149.36Z"/><path d="M468.74 146.8L470.34 149.68L467.14 149.68Z"/><path d="M470.86 147.12L472.46 150L469.26 150Z"/><path d="M472.98 147.44L474.58 150.32L471.38 150.32Z"/><path d="M475.1 147.76L476.7 150.64L473.5 150.64Z"/><path d="M477.22 148.08L478.82 150.96L475.62 150.96Z"/><path d="M479.34 148.4L480.94 151.28L477.74 151.28Z"/><path d="M481.46 148.4L483.06 151.28L479.86 151.28Z"/><path d="M483.58 148.08L485.18 150.96L481.98 150.96Z"/><path d="M485.7 147.76L487.3 150.64L484.1 150.64Z"/><path d="M487.82 147.44L489.42 150.32L486.22 150.32Z"/><path d="M489.94 147.12L491.54 150L488.34 150Z"/><path d="M492.06 146.8L493.66 149.68L490.46 149.68Z"/><path d="M494.18 146.48L495.78 149.36L492.58 149.36Z"/><path d="M496.3 146.16L497.9 149.04L494.7 149.04Z"/><polyline points="464.8,151.4 466.75,151.7 468.7,152 470.65,152.3 472.6,152.6 474.55,152.9 476.5,153.2 478.45,153.5 480.4,153.8 482.35,153.5 484.3,153.2 486.25,152.9 488.2,152.6 490.15,152.3 492.1,152 494.05,151.7 496,151.4" fill="none" stroke="#000" stroke-width="1.7" stroke-linecap="round" stroke-linejoin="round"/><path d="M464.5 150.46L466.1 153.34L462.9 153.34Z"/><path d="M466.62 150.78L468.22 153.66L465.02 153.66Z"/><path d="M468.74 151.1L470.34 153.98L467.14 153.98Z"/><path d="M470.86 151.42L472.46 154.3L469.26 154.3Z"/><path d="M472.98 151.74L474.58 154.62L471.38 154.62Z"/><path d="M475.1 152.06L476.7 154.94L473.5 154.94Z"/><path d="M477.22 152.38L478.82 155.26L475.62 155.26Z"/><path d="M479.34 152.7L480.94 155.58L477.74 155.58Z"/><path d="M481.46 152.7L483.06 155.58L479.86 155.58Z"/><path d="M483.58 152.38L485.18 155.26L481.98 155.26Z"/><path d="M485.7 152.06L487.3 154.94L484.1 154.94Z"/><path d="M487.82 151.74L489.42 154.62L486.22 154.62Z"/><path d="M489.94 151.42L491.54 154.3L488.34 154.3Z"/><path d="M492.06 151.1L493.66 153.98L490.46 153.98Z"/><path d="M494.18 150.78L495.78 153.66L492.58 153.66Z"/><path d="M496.3 150.46L497.9 153.34L494.7 153.34Z"/><path d="M464 154.26L465.6 157.14L462.4 157.14Z"/><path d="M467.59 154.68L469.19 157.56L465.99 157.56Z"/><path d="M471.18 155.1L472.78 157.98L469.58 157.98Z"/><path d="M474.77 155.53L476.37 158.41L473.17 158.41Z"/><path d="M478.36 155.95L479.96 158.83L476.76 158.83Z"/><path d="M481.94 155.95L483.54 158.83L480.34 158.83Z"/><path d="M485.53 155.53L487.13 158.41L483.93 158.41Z"/><path d="M489.12 155.1L490.72 157.98L487.52 157.98Z"/><path d="M492.71 154.68L494.31 157.56L491.11 157.56Z"/><path d="M496.3 154.26L497.9 157.14L494.7 157.14Z"/><path d="M530.4 87.26L533.6 87.26L532 90.14Z"/><path d="M526 92.56L529.2 92.56L527.6 95.44Z"/><path d="M530.4 93.86L533.6 93.86L532 96.74Z"/><path d="M534.6 91.26L537.8 91.26L536.2 94.14Z"/><path d="M514.4 95.46L517.6 95.46L516 98.34Z"/><path d="M517.27 96.06L520.47 96.06L518.87 98.94Z"/><path d="M520.15 96.66L523.35 96.66L521.75 99.54Z"/><path d="M523.02 97.26L526.22 97.26L524.62 100.14Z"/><path d="M525.89 97.86L529.09 97.86L527.49 100.74Z"/><path d="M528.76 98.46L531.96 98.46L530.36 101.34Z"/><path d="M531.64 98.46L534.84 98.46L533.24 101.34Z"/><path d="M534.51 97.86L537.71 97.86L536.11 100.74Z"/><path d="M537.38 97.26L540.58 97.26L538.98 100.14Z"/><path d="M540.25 96.66L543.45 96.66L541.85 99.54Z"/><path d="M543.13 96.06L546.33 96.06L544.73 98.94Z"/><path d="M546 95.46L549.2 95.46L547.6 98.34Z"/><polyline points="516.5,101.2 518.44,101.58 520.38,101.95 522.31,102.33 524.25,102.7 526.19,103.08 528.12,103.45 530.06,103.83 532,104.2 533.94,103.83 535.88,103.45 537.81,103.08 539.75,102.7 541.69,102.33 543.62,101.95 545.56,101.58 547.5,101.2" fill="none" stroke="#000" stroke-width="2.2" stroke-linecap="round" stroke-linejoin="round"/><path d="M514.4 104.16L517.6 104.16L516 107.04Z"/><path d="M517.27 104.72L520.47 104.72L518.87 107.6Z"/><path d="M520.15 105.29L523.35 105.29L521.75 108.17Z"/><path d="M523.02 105.85L526.22 105.85L524.62 108.73Z"/><path d="M525.89 106.41L529.09 106.41L527.49 109.29Z"/><path d="M528.76 106.98L531.96 106.98L530.36 109.86Z"/><path d="M531.64 106.98L534.84 106.98L533.24 109.86Z"/><path d="M534.51 106.41L537.71 106.41L536.11 109.29Z"/><path d="M537.38 105.85L540.58 105.85L538.98 108.73Z"/><path d="M540.25 105.29L543.45 105.29L541.85 108.17Z"/><path d="M543.13 104.72L546.33 104.72L544.73 107.6Z"/><path d="M546 104.16L549.2 104.16L547.6 107.04Z"/><polyline points="516.5,109.6 518.44,109.92 520.38,110.25 522.31,110.58 524.25,110.9 526.19,111.22 528.12,111.55 530.06,111.88 532,112.2 533.94,111.88 535.88,111.55 537.81,111.22 539.75,110.9 541.69,110.58 543.62,110.25 545.56,109.92 547.5,109.6" fill="none" stroke="#000" stroke-width="2.2" stroke-linecap="round" stroke-linejoin="round"/><polyline points="516.5,115.4 518.44,115.73 520.38,116.05 522.31,116.38 524.25,116.7 526.19,117.03 528.12,117.35 530.06,117.67 532,118 533.94,117.67 535.88,117.35 537.81,117.03 539.75,116.7 541.69,116.38 543.62,116.05 545.56,115.73 547.5,115.4" fill="none" stroke="#000" stroke-width="2.2" stroke-linecap="round" stroke-linejoin="round"/><path d="M514.4 118.86L517.6 118.86L516 121.74Z"/><path d="M517.27 119.33L520.47 119.33L518.87 122.21Z"/><path d="M520.15 119.81L523.35 119.81L521.75 122.69Z"/><path d="M523.02 120.28L526.22 120.28L524.62 123.16Z"/><path d="M525.89 120.75L529.09 120.75L527.49 123.63Z"/><path d="M528.76 121.22L531.96 121.22L530.36 124.1Z"/><path d="M531.64 121.22L534.84 121.22L533.24 124.1Z"/><path d="M534.51 120.75L537.71 120.75L536.11 123.63Z"/><path d="M537.38 120.28L540.58 120.28L538.98 123.16Z"/><path d="M540.25 119.81L543.45 119.81L541.85 122.69Z"/><path d="M543.13 119.33L546.33 119.33L544.73 122.21Z"/><path d="M546 118.86L549.2 118.86L547.6 121.74Z"/><polyline points="516.5,124.7 518.44,125.15 520.38,125.6 522.31,126.05 524.25,126.5 526.19,126.95 528.12,127.4 530.06,127.85 532,128.3 533.94,127.85 535.88,127.4 537.81,126.95 539.75,126.5 541.69,126.05 543.62,125.6 545.56,125.15 547.5,124.7" fill="none" stroke="#000" stroke-width="2.2" stroke-linecap="round" stroke-linejoin="round"/><path d="M513.9 127.76L517.1 127.76L515.5 130.64Z"/><path d="M516.85 128.31L520.05 128.31L518.45 131.19Z"/><path d="M519.81 128.85L523.01 128.85L521.41 131.73Z"/><path d="M522.76 129.4L525.96 129.4L524.36 132.28Z"/><path d="M525.72 129.94L528.92 129.94L527.32 132.82Z"/><path d="M528.67 130.49L531.87 130.49L530.27 133.37Z"/><path d="M531.63 130.49L534.83 130.49L533.23 133.37Z"/><path d="M534.58 129.94L537.78 129.94L536.18 132.82Z"/><path d="M537.54 129.4L540.74 129.4L539.14 132.28Z"/><path d="M540.49 128.85L543.69 128.85L542.09 131.73Z"/><path d="M543.45 128.31L546.65 128.31L545.05 131.19Z"/><path d="M546.4 127.76L549.6 127.76L548 130.64Z"/><path d="M514.6 132.56L517.8 132.56L516.2 135.44Z"/><path d="M518.5 133.16L521.7 133.16L520.1 136.04Z"/><path d="M522 133.46L525.2 133.46L523.6 136.34Z"/><path d="M541.4 133.46L544.6 133.46L543 136.34Z"/><path d="M545.7 132.86L548.9 132.86L547.3 135.74Z"/><path d="M526.6 135.76L529.8 135.76L528.2 138.64Z"/><path d="M530.2 136.06L533.4 136.06L531.8 138.94Z"/><path d="M534 136.06L537.2 136.06L535.6 138.94Z"/><path d="M538.3 135.76L541.5 135.76L539.9 138.64Z"/><path d="M515 136.76L518.2 136.76L516.6 139.64Z"/><path d="M518.8 137.86L522 137.86L520.4 140.74Z"/><path d="M522.6 138.96L525.8 138.96L524.2 141.84Z"/><path d="M526.4 140.06L529.6 140.06L528 142.94Z"/><path d="M530.2 141.16L533.4 141.16L531.8 144.04Z"/><path d="M534 140.06L537.2 140.06L535.6 142.94Z"/><path d="M537.8 138.96L541 138.96L539.4 141.84Z"/><path d="M541.6 137.86L544.8 137.86L543.2 140.74Z"/><path d="M545.4 136.76L548.6 136.76L547 139.64Z"/><path d="M514.4 142.06L517.6 142.06L516 144.94Z"/><path d="M518.35 142.86L521.55 142.86L519.95 145.74Z"/><path d="M522.3 143.66L525.5 143.66L523.9 146.54Z"/><path d="M526.25 144.46L529.45 144.46L527.85 147.34Z"/><path d="M530.2 145.26L533.4 145.26L531.8 148.14Z"/><path d="M534.15 144.46L537.35 144.46L535.75 147.34Z"/><path d="M538.1 143.66L541.3 143.66L539.7 146.54Z"/><path d="M542.05 142.86L545.25 142.86L543.65 145.74Z"/><path d="M546 142.06L549.2 142.06L547.6 144.94Z"/><path d="M514.9 146.06L518.1 146.06L516.5 148.94Z"/><path d="M518.76 146.93L521.96 146.93L520.36 149.81Z"/><path d="M522.62 147.81L525.83 147.81L524.23 150.69Z"/><path d="M526.49 148.68L529.69 148.68L528.09 151.56Z"/><path d="M530.35 149.56L533.55 149.56L531.95 152.44Z"/><path d="M534.21 148.69L537.41 148.69L535.81 151.56Z"/><path d="M538.07 147.81L541.27 147.81L539.67 150.69Z"/><path d="M541.94 146.94L545.14 146.94L543.54 149.81Z"/><path d="M545.8 146.06L549 146.06L547.4 148.94Z"/><path d="M514.6 150.86L517.8 150.86L516.2 153.74Z"/><path d="M518.49 151.84L521.69 151.84L520.09 154.72Z"/><path d="M522.38 152.81L525.58 152.81L523.98 155.69Z"/><path d="M526.26 153.78L529.46 153.78L527.86 156.66Z"/><path d="M530.15 154.76L533.35 154.76L531.75 157.64Z"/><path d="M534.04 153.78L537.24 153.78L535.64 156.66Z"/><path d="M537.92 152.81L541.12 152.81L539.52 155.69Z"/><path d="M541.81 151.84L545.01 151.84L543.41 154.72Z"/><path d="M545.7 150.86L548.9 150.86L547.3 153.74Z"/></g><g stroke="#e41e1c" stroke-width="2.1" fill="none"><line x1="85.3" y1="126" x2="85.3" y2="149.2"/><line x1="81.4" y1="126" x2="89.2" y2="126"/><line x1="81.4" y1="149.2" x2="89.2" y2="149.2"/><line x1="77.5" y1="141.5" x2="93.1" y2="141.5"/></g><g stroke="#e41e1c" stroke-width="2.1" fill="none"><line x1="136.8" y1="102.2" x2="136.8" y2="140.3"/><line x1="132.65" y1="102.2" x2="140.95" y2="102.2"/><line x1="132.65" y1="140.3" x2="140.95" y2="140.3"/><line x1="128" y1="121.9" x2="145.6" y2="121.9"/></g><g stroke="#e41e1c" stroke-width="2.1" fill="none"><line x1="188.6" y1="137" x2="188.6" y2="152.7"/><line x1="184.6" y1="137" x2="192.6" y2="137"/><line x1="184.6" y1="152.7" x2="192.6" y2="152.7"/><line x1="180.35" y1="147.6" x2="196.85" y2="147.6"/></g><g stroke="#e41e1c" stroke-width="2.1" fill="none"><line x1="240.5" y1="144.8" x2="240.5" y2="155"/><line x1="236.5" y1="144.8" x2="244.5" y2="144.8"/><line x1="236.5" y1="155" x2="244.5" y2="155"/><line x1="232.25" y1="151.6" x2="248.75" y2="151.6"/></g><g stroke="#e41e1c" stroke-width="2.1" fill="none"><line x1="377.2" y1="107" x2="377.2" y2="138.6"/><line x1="373.35" y1="107" x2="381.05" y2="107"/><line x1="373.35" y1="138.6" x2="381.05" y2="138.6"/><line x1="368.4" y1="123.3" x2="386" y2="123.3"/></g><g stroke="#e41e1c" stroke-width="2.1" fill="none"><line x1="428.6" y1="87.7" x2="428.6" y2="137.6"/><line x1="425" y1="87.7" x2="432.2" y2="87.7"/><line x1="425" y1="137.6" x2="432.2" y2="137.6"/><line x1="420.05" y1="120.5" x2="437.15" y2="120.5"/></g><g stroke="#e41e1c" stroke-width="2.1" fill="none"><line x1="480.3" y1="117.4" x2="480.3" y2="145.6"/><line x1="476.3" y1="117.4" x2="484.3" y2="117.4"/><line x1="476.3" y1="145.6" x2="484.3" y2="145.6"/><line x1="471.75" y1="136.4" x2="488.85" y2="136.4"/></g><g stroke="#e41e1c" stroke-width="2.1" fill="none"><line x1="532" y1="109.1" x2="532" y2="134.7"/><line x1="528" y1="109.1" x2="536" y2="109.1"/><line x1="528" y1="134.7" x2="536" y2="134.7"/><line x1="523.75" y1="121.3" x2="540.25" y2="121.3"/></g><line x1="110.6" y1="402.7" x2="245.4" y2="267.2" stroke="#111" stroke-width="1.5"/><polyline points="110.6,402.7 110.6,401.21 112.08,401.21 112.08,399.72 113.57,399.72 113.57,398.23 115.05,398.23 115.05,396.74 116.53,396.74 116.53,395.25 118.01,395.25 118.01,393.76 118.01,392.27 119.5,392.27 119.5,390.78 119.5,389.29 119.5,387.8 120.98,387.8 120.98,386.3 120.98,384.81 120.98,383.32 122.46,383.32 122.46,381.83 122.46,380.34 123.95,380.34 123.95,378.85 123.95,377.36 125.43,377.36 125.43,375.87 125.43,374.38 126.91,374.38 126.91,372.89 128.39,372.89 128.39,371.4 129.88,371.4 129.88,369.91 131.36,369.91 131.36,368.42 131.36,366.93 132.84,366.93 132.84,365.44 132.84,363.95 134.32,363.95 134.32,362.46 134.32,360.97 135.81,360.97 135.81,359.48 135.81,357.99 137.29,357.99 137.29,356.49 137.29,355 137.29,353.51 138.77,353.51 138.77,352.02 140.26,352.02 140.26,350.53 141.74,350.53 141.74,349.04 143.22,349.04 143.22,347.55 144.7,347.55 146.19,347.55 146.19,346.06 147.67,346.06 149.15,346.06 149.15,344.57 150.64,344.57 152.12,344.57 152.12,343.08 153.6,343.08 153.6,341.59 153.6,340.1 155.08,340.1 155.08,338.61 156.57,338.61 156.57,337.12 156.57,335.63 158.05,335.63 158.05,334.14 158.05,332.65 159.53,332.65 161.02,332.65 162.5,332.65 163.98,332.65 163.98,331.16 163.98,329.67 163.98,328.17 165.46,328.17 165.46,326.68 165.46,325.19 165.46,323.7 166.95,323.7 166.95,322.21 166.95,320.72 168.43,320.72 168.43,319.23 168.43,317.74 169.91,317.74 169.91,316.25 171.39,316.25 171.39,314.76 171.39,313.27 172.88,313.27 174.36,313.27 174.36,311.78 175.84,311.78 177.33,311.78 177.33,310.29 178.81,310.29 178.81,308.8 180.29,308.8 180.29,307.31 181.77,307.31 181.77,305.82 183.26,305.82 183.26,304.33 184.74,304.33 184.74,302.84 186.22,302.84 186.22,301.35 187.71,301.35 189.19,301.35 189.19,299.86 190.67,299.86 190.67,298.37 192.15,298.37 192.15,296.87 193.64,296.87 195.12,296.87 195.12,295.38 196.6,295.38 196.6,293.89 198.09,293.89 198.09,292.4 199.57,292.4 201.05,292.4 201.05,290.91 202.53,290.91 202.53,289.42 204.02,289.42 205.5,289.42 206.98,289.42 208.46,289.42 209.95,289.42 209.95,287.93 211.43,287.93 212.91,287.93 214.4,287.93 215.88,287.93 217.36,287.93 217.36,286.44 218.84,286.44 218.84,284.95 218.84,283.46 220.33,283.46 220.33,281.97 221.81,281.97 221.81,280.48 223.29,280.48 223.29,278.99 224.78,278.99 224.78,277.5 226.26,277.5 227.74,277.5 227.74,276.01 229.22,276.01 230.71,276.01 230.71,274.52 232.19,274.52 233.67,274.52 233.67,273.03 235.16,273.03 236.64,273.03 236.64,271.54 238.12,271.54 239.6,271.54 239.6,270.05 241.09,270.05 241.09,268.55 242.57,268.55 244.05,268.55 244.05,267.2 245.4,267.2" fill="none" stroke="#2b2a96" stroke-width="1.4" stroke-linejoin="round"/><polyline points="110.6,402.7 110.6,401.21 110.6,399.72 110.6,398.23 110.6,396.74 110.6,395.25 110.6,393.76 110.6,392.27 112.08,392.27 112.08,390.78 112.08,389.29 112.08,387.8 113.57,387.8 115.05,387.8 115.05,386.3 116.53,386.3 116.53,384.81 116.53,383.32 116.53,381.83 118.01,381.83 118.01,380.34 118.01,378.85 119.5,378.85 119.5,377.36 119.5,375.87 120.98,375.87 120.98,374.38 122.46,374.38 122.46,372.89 123.95,372.89 123.95,371.4 125.43,371.4 125.43,369.91 126.91,369.91 126.91,368.42 126.91,366.93 128.39,366.93 128.39,365.44 129.88,365.44 129.88,363.95 131.36,363.95 131.36,362.46 132.84,362.46 132.84,360.97 132.84,359.48 134.32,359.48 134.32,357.99 135.81,357.99 135.81,356.49 137.29,356.49 137.29,355 137.29,353.51 138.77,353.51 138.77,352.02 140.26,352.02 140.26,350.53 141.74,350.53 141.74,349.04 143.22,349.04 143.22,347.55 143.22,346.06 144.7,346.06 144.7,344.57 146.19,344.57 147.67,344.57 149.15,344.57 149.15,343.08 150.64,343.08 150.64,341.59 152.12,341.59 152.12,340.1 152.12,338.61 153.6,338.61 153.6,337.12 153.6,335.63 153.6,334.14 155.08,334.14 155.08,332.65 156.57,332.65 156.57,331.16 156.57,329.67 158.05,329.67 158.05,328.17 158.05,326.68 159.53,326.68 159.53,325.19 159.53,323.7 161.02,323.7 161.02,322.21 161.02,320.72 162.5,320.72 162.5,319.23 163.98,319.23 163.98,317.74 165.46,317.74 165.46,316.25 166.95,316.25 166.95,314.76 168.43,314.76 168.43,313.27 169.91,313.27 169.91,311.78 171.39,311.78 171.39,310.29 172.88,310.29 174.36,310.29 174.36,308.8 174.36,307.31 175.84,307.31 175.84,305.82 177.33,305.82 177.33,304.33 178.81,304.33 178.81,302.84 180.29,302.84 180.29,301.35 181.77,301.35 183.26,301.35 184.74,301.35 186.22,301.35 186.22,299.86 187.71,299.86 189.19,299.86 190.67,299.86 192.15,299.86 193.64,299.86 193.64,298.37 195.12,298.37 195.12,296.87 196.6,296.87 198.09,296.87 198.09,295.38 199.57,295.38 199.57,293.89 201.05,293.89 201.05,292.4 202.53,292.4 202.53,290.91 204.02,290.91 205.5,290.91 205.5,289.42 206.98,289.42 206.98,287.93 208.46,287.93 208.46,286.44 209.95,286.44 211.43,286.44 211.43,284.95 212.91,284.95 214.4,284.95 214.4,283.46 215.88,283.46 215.88,281.97 217.36,281.97 218.84,281.97 218.84,280.48 220.33,280.48 221.81,280.48 221.81,278.99 223.29,278.99 223.29,277.5 224.78,277.5 224.78,276.01 226.26,276.01 227.74,276.01 227.74,274.52 229.22,274.52 229.22,273.03 230.71,273.03 230.71,271.54 232.19,271.54 233.67,271.54 235.16,271.54 235.16,270.05 236.64,270.05 238.12,270.05 239.6,270.05 239.6,268.55 241.09,268.55 242.57,268.55 244.05,268.55 244.05,267.2 245.4,267.2" fill="none" stroke="#e3231c" stroke-width="1.5" stroke-linejoin="round"/><polyline points="110.6,402.7 110.6,401.21 112.08,401.21 112.08,399.72 113.57,399.72 113.57,398.23 113.57,396.74 115.05,396.74 115.05,395.25 115.05,393.76 116.53,393.76 116.53,392.27 116.53,390.78 116.53,389.29 116.53,387.8 116.53,386.3 118.01,386.3 118.01,384.81 118.01,383.32 118.01,381.83 118.01,380.34 119.5,380.34 119.5,378.85 119.5,377.36 119.5,375.87 120.98,375.87 120.98,374.38 122.46,374.38 122.46,372.89 123.95,372.89 123.95,371.4 123.95,369.91 125.43,369.91 125.43,368.42 126.91,368.42 126.91,366.93 126.91,365.44 128.39,365.44 128.39,363.95 129.88,363.95 129.88,362.46 131.36,362.46 131.36,360.97 131.36,359.48 132.84,359.48 132.84,357.99 134.32,357.99 134.32,356.49 135.81,356.49 135.81,355 135.81,353.51 135.81,352.02 137.29,352.02 137.29,350.53 137.29,349.04 138.77,349.04 138.77,347.55 138.77,346.06 140.26,346.06 140.26,344.57 140.26,343.08 141.74,343.08 141.74,341.59 143.22,341.59 143.22,340.1 144.7,340.1 144.7,338.61 146.19,338.61 146.19,337.12 146.19,335.63 147.67,335.63 147.67,334.14 149.15,334.14 149.15,332.65 150.64,332.65 152.12,332.65 153.6,332.65 155.08,332.65 155.08,331.16 156.57,331.16 156.57,329.67 158.05,329.67 158.05,328.17 158.05,326.68 159.53,326.68 159.53,325.19 161.02,325.19 161.02,323.7 162.5,323.7 162.5,322.21 162.5,320.72 163.98,320.72 165.46,320.72 165.46,319.23 166.95,319.23 166.95,317.74 166.95,316.25 168.43,316.25 168.43,314.76 169.91,314.76 169.91,313.27 171.39,313.27 172.88,313.27 172.88,311.78 174.36,311.78 174.36,310.29 175.84,310.29 175.84,308.8 177.33,308.8 177.33,307.31 178.81,307.31 180.29,307.31 180.29,305.82 181.77,305.82 181.77,304.33 183.26,304.33 183.26,302.84 184.74,302.84 186.22,302.84 186.22,301.35 187.71,301.35 187.71,299.86 189.19,299.86 189.19,298.37 190.67,298.37 190.67,296.87 192.15,296.87 192.15,295.38 193.64,295.38 195.12,295.38 195.12,293.89 196.6,293.89 196.6,292.4 198.09,292.4 198.09,290.91 199.57,290.91 199.57,289.42 201.05,289.42 202.53,289.42 202.53,287.93 204.02,287.93 204.02,286.44 205.5,286.44 205.5,284.95 206.98,284.95 208.46,284.95 208.46,283.46 209.95,283.46 211.43,283.46 211.43,281.97 212.91,281.97 214.4,281.97 214.4,280.48 215.88,280.48 217.36,280.48 217.36,278.99 218.84,278.99 220.33,278.99 220.33,277.5 221.81,277.5 223.29,277.5 223.29,276.01 224.78,276.01 226.26,276.01 226.26,274.52 227.74,274.52 229.22,274.52 229.22,273.03 230.71,273.03 232.19,273.03 232.19,271.54 233.67,271.54 235.16,271.54 236.64,271.54 236.64,270.05 238.12,270.05 239.6,270.05 239.6,268.55 241.09,268.55 242.57,268.55 244.05,268.55 244.05,267.2 245.4,267.2" fill="none" stroke="#159040" stroke-width="1.5" stroke-linejoin="round"/><g stroke="#000" stroke-width="1.4" fill="none" stroke-linecap="square"><rect x="110.6" y="267.2" width="134.8" height="135.5"/><line x1="107" y1="402.7" x2="110.6" y2="402.7"/><line x1="110.6" y1="402.7" x2="110.6" y2="406.2"/><line x1="107" y1="375.6" x2="110.6" y2="375.6"/><line x1="137.56" y1="402.7" x2="137.56" y2="406.2"/><line x1="107" y1="348.5" x2="110.6" y2="348.5"/><line x1="164.52" y1="402.7" x2="164.52" y2="406.2"/><line x1="107" y1="321.4" x2="110.6" y2="321.4"/><line x1="191.48" y1="402.7" x2="191.48" y2="406.2"/><line x1="107" y1="294.3" x2="110.6" y2="294.3"/><line x1="218.44" y1="402.7" x2="218.44" y2="406.2"/><line x1="107" y1="267.2" x2="110.6" y2="267.2"/><line x1="245.4" y1="402.7" x2="245.4" y2="406.2"/></g><text x="104.6" y="406.3" font-size="10" font-weight="bold" text-anchor="end" fill="#000" >0</text><text x="110.6" y="418.8" font-size="10" font-weight="bold" text-anchor="middle" fill="#000" >0</text><text x="104.6" y="379.2" font-size="10" font-weight="bold" text-anchor="end" fill="#000" >20</text><text x="137.56" y="418.8" font-size="10" font-weight="bold" text-anchor="middle" fill="#000" >20</text><text x="104.6" y="352.1" font-size="10" font-weight="bold" text-anchor="end" fill="#000" >40</text><text x="164.52" y="418.8" font-size="10" font-weight="bold" text-anchor="middle" fill="#000" >40</text><text x="104.6" y="325" font-size="10" font-weight="bold" text-anchor="end" fill="#000" >60</text><text x="191.48" y="418.8" font-size="10" font-weight="bold" text-anchor="middle" fill="#000" >60</text><text x="104.6" y="297.9" font-size="10" font-weight="bold" text-anchor="end" fill="#000" >80</text><text x="218.44" y="418.8" font-size="10" font-weight="bold" text-anchor="middle" fill="#000" >80</text><text x="104.6" y="270.8" font-size="10" font-weight="bold" text-anchor="end" fill="#000" >100</text><text x="245.4" y="418.8" font-size="10" font-weight="bold" text-anchor="middle" fill="#000" >100</text><text x="83" y="335.5" font-size="13" font-weight="bold" text-anchor="middle" fill="#000" transform="rotate(-90 83 335.5)">Sensitivity%</text><text x="178.5" y="434.8" font-size="13" font-weight="bold" text-anchor="middle" fill="#000" >100% - Specificity%</text><text x="109.5" y="261.8" font-size="8.85" font-weight="bold" text-anchor="start" fill="#000" >HCC≤5cm VS Cirrhosis</text><line x1="276.9" y1="267.4" x2="291.9" y2="267.4" stroke="#2b2a96" stroke-width="1.5"/><text x="300.3" y="271.3" font-size="11" font-weight="bold" text-anchor="start" fill="#000" >AFP</text><line x1="276.9" y1="283.5" x2="291.9" y2="283.5" stroke="#e3231c" stroke-width="1.5"/><text x="300.3" y="287.4" font-size="11" font-weight="bold" text-anchor="start" fill="#000" >PIVKA-II</text><line x1="276.9" y1="300.3" x2="291.9" y2="300.3" stroke="#159040" stroke-width="1.6"/><text x="300.3" y="304.2" font-size="11" font-weight="bold" text-anchor="start" fill="#000" >AFP+PIVKA-II</text><line x1="276.9" y1="317.4" x2="291.9" y2="317.4" stroke="#111" stroke-width="1.6"/><text x="300.3" y="321.3" font-size="11" font-weight="bold" text-anchor="start" fill="#000" >Identity%</text><g stroke="#8a8a8a" stroke-width="1" fill="none"><rect x="272.6" y="348.4" width="291.1" height="86.1"/><line x1="272.6" y1="370.2" x2="448.2" y2="370.2"/><line x1="272.6" y1="392.3" x2="448.2" y2="392.3"/><line x1="272.6" y1="413.5" x2="448.2" y2="413.5"/><line x1="448.2" y1="370.2" x2="563.7" y2="370.2"/><line x1="332.5" y1="348.4" x2="332.5" y2="434.5"/><line x1="377.4" y1="348.4" x2="377.4" y2="434.5"/><line x1="448.2" y1="348.4" x2="448.2" y2="434.5"/><line x1="485.3" y1="370.2" x2="485.3" y2="434.5"/><line x1="522.2" y1="370.2" x2="522.2" y2="434.5"/><line x1="448.2" y1="413.5" x2="485.3" y2="413.5"/><line x1="485.3" y1="392.3" x2="522.2" y2="392.3"/></g><text x="302.55" y="363.6" font-size="10.2" font-weight="bold" text-anchor="middle" fill="#111" stroke="#111" stroke-width="0.3" textLength="28.79" lengthAdjust="spacingAndGlyphs">Group</text><text x="354.95" y="363.6" font-size="10.2" font-weight="bold" text-anchor="middle" fill="#111" stroke="#111" stroke-width="0.3" textLength="33.61" lengthAdjust="spacingAndGlyphs">AUROC</text><text x="412.8" y="363.6" font-size="10.2" font-weight="bold" text-anchor="middle" fill="#111" stroke="#111" stroke-width="0.3" textLength="30.62" lengthAdjust="spacingAndGlyphs">95% CI</text><text x="505.95" y="363.6" font-size="10.2" font-weight="bold" text-anchor="middle" fill="#111" stroke="#111" stroke-width="0.3" textLength="68.45" lengthAdjust="spacingAndGlyphs">P(DeLong test)</text><text x="302.55" y="385.55" font-size="10.2" font-weight="bold" text-anchor="middle" fill="#111" stroke="#111" stroke-width="0.3" textLength="17.31" lengthAdjust="spacingAndGlyphs">AFP</text><text x="354.95" y="385.55" font-size="10.2" font-weight="bold" text-anchor="middle" fill="#111" stroke="#111" stroke-width="0.3" textLength="25.26" lengthAdjust="spacingAndGlyphs">0.635</text><text x="412.8" y="385.55" font-size="10.2" font-weight="bold" text-anchor="middle" fill="#111" stroke="#111" stroke-width="0.3" textLength="54.91" lengthAdjust="spacingAndGlyphs">0.595-0.674</text><text x="302.55" y="407.2" font-size="10.2" font-weight="bold" text-anchor="middle" fill="#111" stroke="#111" stroke-width="0.3" textLength="37.77" lengthAdjust="spacingAndGlyphs">PIVKA-II</text><text x="354.95" y="407.2" font-size="10.2" font-weight="bold" text-anchor="middle" fill="#111" stroke="#111" stroke-width="0.3" textLength="25.26" lengthAdjust="spacingAndGlyphs">0.607</text><text x="412.8" y="407.2" font-size="10.2" font-weight="bold" text-anchor="middle" fill="#111" stroke="#111" stroke-width="0.3" textLength="54.91" lengthAdjust="spacingAndGlyphs">0.566-0.646</text><text x="302.55" y="428.3" font-size="10.2" font-weight="bold" text-anchor="middle" fill="#111" stroke="#111" stroke-width="0.3" textLength="17.75" lengthAdjust="spacingAndGlyphs">A+P</text><text x="354.95" y="428.3" font-size="10.2" font-weight="bold" text-anchor="middle" fill="#111" stroke="#111" stroke-width="0.3" textLength="25.26" lengthAdjust="spacingAndGlyphs">0.641</text><text x="412.8" y="428.3" font-size="10.2" font-weight="bold" text-anchor="middle" fill="#111" stroke="#111" stroke-width="0.3" textLength="54.91" lengthAdjust="spacingAndGlyphs">0.601-0.679</text><text x="466.75" y="396.15" font-size="10.2" font-weight="bold" text-anchor="middle" fill="#111" stroke="#111" stroke-width="0.3" textLength="25.26" lengthAdjust="spacingAndGlyphs">0.414</text><text x="503.75" y="417.7" font-size="10.2" font-weight="bold" text-anchor="middle" fill="#111" stroke="#111" stroke-width="0.3" textLength="25.26" lengthAdjust="spacingAndGlyphs">0.004</text><text x="542.95" y="406.65" font-size="10.2" font-weight="bold" text-anchor="middle" fill="#111" stroke="#111" stroke-width="0.3" textLength="25.26" lengthAdjust="spacingAndGlyphs">0.834</text><line x1="107.8" y1="634" x2="243" y2="498.5" stroke="#111" stroke-width="1.5"/><polyline points="107.8,634 107.8,632.92 107.8,631.83 107.8,630.75 107.8,629.66 107.8,628.58 107.8,627.5 107.8,626.41 107.8,625.33 107.8,624.24 107.8,623.16 107.8,622.08 107.8,620.99 107.8,619.91 107.8,618.82 107.8,617.74 107.8,616.66 107.8,615.57 107.8,614.49 107.8,613.4 107.8,612.32 107.8,611.24 107.8,610.15 107.8,609.07 107.8,607.98 107.8,606.9 107.8,605.82 107.8,604.73 107.8,603.65 107.8,602.56 107.8,601.48 107.8,600.4 107.8,599.31 107.8,598.23 107.8,597.14 107.8,596.06 107.8,594.98 107.8,593.89 107.8,592.81 107.8,591.72 107.8,590.64 108.88,590.64 108.88,589.56 108.88,588.47 108.88,587.39 108.88,586.3 109.96,586.3 109.96,585.22 109.96,584.14 109.96,583.05 111.04,583.05 111.04,581.97 111.04,580.88 111.04,579.8 112.13,579.8 112.13,578.72 112.13,577.63 113.21,577.63 113.21,576.55 113.21,575.46 114.29,575.46 114.29,574.38 115.37,574.38 115.37,573.3 116.45,573.3 116.45,572.21 116.45,571.13 117.53,571.13 118.62,571.13 118.62,570.04 119.7,570.04 120.78,570.04 120.78,568.96 121.86,568.96 121.86,567.88 122.94,567.88 124.02,567.88 124.02,566.79 125.11,566.79 125.11,565.71 126.19,565.71 126.19,564.62 127.27,564.62 128.35,564.62 128.35,563.54 129.43,563.54 129.43,562.46 130.51,562.46 130.51,561.37 131.6,561.37 132.68,561.37 132.68,560.29 133.76,560.29 134.84,560.29 134.84,559.2 135.92,559.2 135.92,558.12 137,558.12 137,557.04 138.08,557.04 138.08,555.95 139.17,555.95 139.17,554.87 140.25,554.87 140.25,553.78 141.33,553.78 141.33,552.7 142.41,552.7 142.41,551.62 143.49,551.62 143.49,550.53 144.57,550.53 145.66,550.53 145.66,549.45 146.74,549.45 146.74,548.36 147.82,548.36 147.82,547.28 148.9,547.28 148.9,546.2 149.98,546.2 149.98,545.11 151.06,545.11 151.06,544.03 152.15,544.03 152.15,542.94 153.23,542.94 153.23,541.86 154.31,541.86 154.31,540.78 155.39,540.78 155.39,539.69 156.47,539.69 157.55,539.69 157.55,538.61 158.64,538.61 158.64,537.52 159.72,537.52 159.72,536.44 160.8,536.44 160.8,535.36 161.88,535.36 162.96,535.36 162.96,534.27 164.04,534.27 164.04,533.19 165.12,533.19 165.12,532.1 166.21,532.1 167.29,532.1 167.29,531.02 168.37,531.02 168.37,529.94 169.45,529.94 170.53,529.94 170.53,528.85 171.61,528.85 171.61,527.77 172.7,527.77 173.78,527.77 173.78,526.68 174.86,526.68 175.94,526.68 175.94,525.6 177.02,525.6 178.1,525.6 178.1,524.52 179.19,524.52 180.27,524.52 180.27,523.43 181.35,523.43 182.43,523.43 182.43,522.35 183.51,522.35 184.59,522.35 184.59,521.26 185.68,521.26 186.76,521.26 186.76,520.18 187.84,520.18 188.92,520.18 188.92,519.1 190,519.1 191.08,519.1 191.08,518.01 192.16,518.01 193.25,518.01 193.25,516.93 194.33,516.93 195.41,516.93 195.41,515.84 196.49,515.84 197.57,515.84 197.57,514.76 198.65,514.76 198.65,513.68 199.74,513.68 200.82,513.68 200.82,512.59 201.9,512.59 202.98,512.59 202.98,511.51 204.06,511.51 205.14,511.51 205.14,510.42 206.23,510.42 207.31,510.42 208.39,510.42 208.39,509.34 209.47,509.34 210.55,509.34 211.63,509.34 212.72,509.34 212.72,508.26 213.8,508.26 214.88,508.26 215.96,508.26 215.96,507.17 217.04,507.17 218.12,507.17 219.2,507.17 220.29,507.17 220.29,506.09 221.37,506.09 222.45,506.09 223.53,506.09 223.53,505 224.61,505 225.69,505 225.69,503.92 226.78,503.92 227.86,503.92 228.94,503.92 228.94,502.84 230.02,502.84 231.1,502.84 231.1,501.75 232.18,501.75 233.27,501.75 233.27,500.67 234.35,500.67 235.43,500.67 236.51,500.67 237.59,500.67 237.59,499.58 238.67,499.58 239.76,499.58 240.84,499.58 240.84,498.5 241.92,498.5 243,498.5" fill="none" stroke="#1f1d8c" stroke-width="1.4" stroke-linejoin="round"/><polyline points="107.8,634 107.8,632.92 107.8,631.83 107.8,630.75 107.8,629.66 107.8,628.58 107.8,627.5 107.8,626.41 107.8,625.33 107.8,624.24 107.8,623.16 108.88,623.16 108.88,622.08 108.88,620.99 108.88,619.91 108.88,618.82 108.88,617.74 108.88,616.66 108.88,615.57 108.88,614.49 108.88,613.4 108.88,612.32 108.88,611.24 108.88,610.15 108.88,609.07 108.88,607.98 108.88,606.9 108.88,605.82 109.96,605.82 109.96,604.73 109.96,603.65 109.96,602.56 109.96,601.48 109.96,600.4 109.96,599.31 109.96,598.23 109.96,597.14 109.96,596.06 109.96,594.98 109.96,593.89 109.96,592.81 109.96,591.72 111.04,591.72 111.04,590.64 111.04,589.56 111.04,588.47 111.04,587.39 111.04,586.3 111.04,585.22 111.04,584.14 111.04,583.05 111.04,581.97 112.13,581.97 112.13,580.88 112.13,579.8 112.13,578.72 112.13,577.63 112.13,576.55 113.21,576.55 113.21,575.46 113.21,574.38 113.21,573.3 113.21,572.21 114.29,572.21 114.29,571.13 114.29,570.04 114.29,568.96 114.29,567.88 115.37,567.88 115.37,566.79 115.37,565.71 115.37,564.62 116.45,564.62 116.45,563.54 116.45,562.46 116.45,561.37 117.53,561.37 117.53,560.29 117.53,559.2 117.53,558.12 118.62,558.12 118.62,557.04 118.62,555.95 119.7,555.95 119.7,554.87 119.7,553.78 120.78,553.78 120.78,552.7 120.78,551.62 121.86,551.62 121.86,550.53 122.94,550.53 122.94,549.45 124.02,549.45 124.02,548.36 125.11,548.36 125.11,547.28 126.19,547.28 126.19,546.2 127.27,546.2 128.35,546.2 128.35,545.11 129.43,545.11 129.43,544.03 130.51,544.03 130.51,542.94 131.6,542.94 131.6,541.86 132.68,541.86 132.68,540.78 133.76,540.78 133.76,539.69 134.84,539.69 134.84,538.61 134.84,537.52 135.92,537.52 135.92,536.44 137,536.44 138.08,536.44 138.08,535.36 139.17,535.36 139.17,534.27 140.25,534.27 141.33,534.27 141.33,533.19 142.41,533.19 143.49,533.19 143.49,532.1 144.57,532.1 145.66,532.1 145.66,531.02 146.74,531.02 147.82,531.02 148.9,531.02 148.9,529.94 149.98,529.94 151.06,529.94 152.15,529.94 152.15,528.85 153.23,528.85 154.31,528.85 154.31,527.77 155.39,527.77 156.47,527.77 156.47,526.68 157.55,526.68 158.64,526.68 158.64,525.6 159.72,525.6 160.8,525.6 160.8,524.52 161.88,524.52 162.96,524.52 164.04,524.52 164.04,523.43 165.12,523.43 166.21,523.43 166.21,522.35 167.29,522.35 168.37,522.35 169.45,522.35 169.45,521.26 170.53,521.26 171.61,521.26 171.61,520.18 172.7,520.18 173.78,520.18 173.78,519.1 174.86,519.1 175.94,519.1 177.02,519.1 177.02,518.01 178.1,518.01 179.19,518.01 180.27,518.01 180.27,516.93 181.35,516.93 182.43,516.93 182.43,515.84 183.51,515.84 184.59,515.84 185.68,515.84 185.68,514.76 186.76,514.76 187.84,514.76 187.84,513.68 188.92,513.68 190,513.68 191.08,513.68 191.08,512.59 192.16,512.59 193.25,512.59 194.33,512.59 194.33,511.51 195.41,511.51 196.49,511.51 197.57,511.51 197.57,510.42 198.65,510.42 199.74,510.42 200.82,510.42 200.82,509.34 201.9,509.34 202.98,509.34 204.06,509.34 205.14,509.34 205.14,508.26 206.23,508.26 207.31,508.26 208.39,508.26 208.39,507.17 209.47,507.17 210.55,507.17 211.63,507.17 212.72,507.17 212.72,506.09 213.8,506.09 214.88,506.09 215.96,506.09 217.04,506.09 217.04,505 218.12,505 219.2,505 220.29,505 221.37,505 221.37,503.92 222.45,503.92 223.53,503.92 224.61,503.92 224.61,502.84 225.69,502.84 226.78,502.84 227.86,502.84 227.86,501.75 228.94,501.75 230.02,501.75 231.1,501.75 231.1,500.67 232.18,500.67 233.27,500.67 234.35,500.67 235.43,500.67 235.43,499.58 236.51,499.58 237.59,499.58 238.67,499.58 239.76,499.58 240.84,499.58 240.84,498.5 241.92,498.5 243,498.5" fill="none" stroke="#f2603f" stroke-width="1.5" stroke-linejoin="round"/><polyline points="107.8,634 107.8,632.92 107.8,631.83 107.8,630.75 107.8,629.66 107.8,628.58 107.8,627.5 107.8,626.41 107.8,625.33 107.8,624.24 107.8,623.16 107.8,622.08 107.8,620.99 107.8,619.91 107.8,618.82 107.8,617.74 107.8,616.66 107.8,615.57 107.8,614.49 107.8,613.4 107.8,612.32 107.8,611.24 107.8,610.15 107.8,609.07 107.8,607.98 107.8,606.9 107.8,605.82 107.8,604.73 107.8,603.65 107.8,602.56 108.88,602.56 108.88,601.48 108.88,600.4 108.88,599.31 108.88,598.23 108.88,597.14 108.88,596.06 108.88,594.98 108.88,593.89 108.88,592.81 108.88,591.72 108.88,590.64 108.88,589.56 109.96,589.56 109.96,588.47 109.96,587.39 109.96,586.3 109.96,585.22 109.96,584.14 109.96,583.05 109.96,581.97 109.96,580.88 111.04,580.88 111.04,579.8 111.04,578.72 111.04,577.63 111.04,576.55 111.04,575.46 111.04,574.38 111.04,573.3 111.04,572.21 112.13,572.21 112.13,571.13 112.13,570.04 112.13,568.96 112.13,567.88 112.13,566.79 113.21,566.79 113.21,565.71 113.21,564.62 113.21,563.54 113.21,562.46 114.29,562.46 114.29,561.37 114.29,560.29 114.29,559.2 114.29,558.12 115.37,558.12 115.37,557.04 115.37,555.95 115.37,554.87 115.37,553.78 116.45,553.78 116.45,552.7 116.45,551.62 117.53,551.62 117.53,550.53 117.53,549.45 117.53,548.36 118.62,548.36 118.62,547.28 119.7,547.28 120.78,547.28 120.78,546.2 121.86,546.2 121.86,545.11 122.94,545.11 124.02,545.11 124.02,544.03 125.11,544.03 125.11,542.94 126.19,542.94 126.19,541.86 127.27,541.86 128.35,541.86 128.35,540.78 129.43,540.78 129.43,539.69 130.51,539.69 130.51,538.61 131.6,538.61 131.6,537.52 132.68,537.52 132.68,536.44 133.76,536.44 134.84,536.44 134.84,535.36 135.92,535.36 135.92,534.27 137,534.27 137,533.19 138.08,533.19 138.08,532.1 139.17,532.1 139.17,531.02 140.25,531.02 141.33,531.02 141.33,529.94 142.41,529.94 142.41,528.85 143.49,528.85 144.57,528.85 144.57,527.77 145.66,527.77 146.74,527.77 146.74,526.68 147.82,526.68 148.9,526.68 149.98,526.68 149.98,525.6 151.06,525.6 152.15,525.6 153.23,525.6 153.23,524.52 154.31,524.52 155.39,524.52 156.47,524.52 156.47,523.43 157.55,523.43 158.64,523.43 158.64,522.35 159.72,522.35 160.8,522.35 160.8,521.26 161.88,521.26 162.96,521.26 162.96,520.18 164.04,520.18 165.12,520.18 165.12,519.1 166.21,519.1 167.29,519.1 167.29,518.01 168.37,518.01 169.45,518.01 170.53,518.01 170.53,516.93 171.61,516.93 172.7,516.93 172.7,515.84 173.78,515.84 174.86,515.84 175.94,515.84 175.94,514.76 177.02,514.76 178.1,514.76 179.19,514.76 179.19,513.68 180.27,513.68 181.35,513.68 182.43,513.68 183.51,513.68 183.51,512.59 184.59,512.59 185.68,512.59 186.76,512.59 187.84,512.59 187.84,511.51 188.92,511.51 190,511.51 191.08,511.51 192.16,511.51 192.16,510.42 193.25,510.42 194.33,510.42 195.41,510.42 195.41,509.34 196.49,509.34 197.57,509.34 198.65,509.34 199.74,509.34 199.74,508.26 200.82,508.26 201.9,508.26 202.98,508.26 202.98,507.17 204.06,507.17 205.14,507.17 206.23,507.17 206.23,506.09 207.31,506.09 208.39,506.09 209.47,506.09 210.55,506.09 210.55,505 211.63,505 212.72,505 213.8,505 213.8,503.92 214.88,503.92 215.96,503.92 217.04,503.92 217.04,502.84 218.12,502.84 219.2,502.84 220.29,502.84 221.37,502.84 221.37,501.75 222.45,501.75 223.53,501.75 224.61,501.75 225.69,501.75 225.69,500.67 226.78,500.67 227.86,500.67 228.94,500.67 230.02,500.67 231.1,500.67 231.1,499.58 232.18,499.58 233.27,499.58 234.35,499.58 235.43,499.58 236.51,499.58 237.59,499.58 238.67,499.58 238.67,498.5 239.76,498.5 240.84,498.5 241.92,498.5 243,498.5" fill="none" stroke="#1b9a4e" stroke-width="1.5" stroke-linejoin="round"/><g stroke="#222" stroke-width="1.4" fill="none" stroke-linecap="square"><rect x="107.8" y="498.5" width="135.2" height="135.5"/><line x1="104.2" y1="634" x2="107.8" y2="634"/><line x1="107.8" y1="634" x2="107.8" y2="637.5"/><line x1="104.2" y1="606.9" x2="107.8" y2="606.9"/><line x1="134.84" y1="634" x2="134.84" y2="637.5"/><line x1="104.2" y1="579.8" x2="107.8" y2="579.8"/><line x1="161.88" y1="634" x2="161.88" y2="637.5"/><line x1="104.2" y1="552.7" x2="107.8" y2="552.7"/><line x1="188.92" y1="634" x2="188.92" y2="637.5"/><line x1="104.2" y1="525.6" x2="107.8" y2="525.6"/><line x1="215.96" y1="634" x2="215.96" y2="637.5"/><line x1="104.2" y1="498.5" x2="107.8" y2="498.5"/><line x1="243" y1="634" x2="243" y2="637.5"/></g><text x="102.3" y="637.6" font-size="10" font-weight="bold" text-anchor="end" fill="#000" >0</text><text x="107.8" y="648.8" font-size="10" font-weight="bold" text-anchor="middle" fill="#000" >0</text><text x="102.3" y="610.5" font-size="10" font-weight="bold" text-anchor="end" fill="#000" >20</text><text x="134.84" y="648.8" font-size="10" font-weight="bold" text-anchor="middle" fill="#000" >20</text><text x="102.3" y="583.4" font-size="10" font-weight="bold" text-anchor="end" fill="#000" >40</text><text x="161.88" y="648.8" font-size="10" font-weight="bold" text-anchor="middle" fill="#000" >40</text><text x="102.3" y="556.3" font-size="10" font-weight="bold" text-anchor="end" fill="#000" >60</text><text x="188.92" y="648.8" font-size="10" font-weight="bold" text-anchor="middle" fill="#000" >60</text><text x="102.3" y="529.2" font-size="10" font-weight="bold" text-anchor="end" fill="#000" >80</text><text x="215.96" y="648.8" font-size="10" font-weight="bold" text-anchor="middle" fill="#000" >80</text><text x="102.3" y="502.1" font-size="10" font-weight="bold" text-anchor="end" fill="#000" >100</text><text x="243" y="648.8" font-size="10" font-weight="bold" text-anchor="middle" fill="#000" >100</text><text x="80" y="566.3" font-size="13" font-weight="bold" text-anchor="middle" fill="#000" transform="rotate(-90 80 566.3)">Sensitivity%</text><text x="175.5" y="664.8" font-size="13" font-weight="bold" text-anchor="middle" fill="#000" >100% - Specificity%</text><text x="106.9" y="492.8" font-size="9" font-weight="bold" text-anchor="start" fill="#000" >all HCC VS Cirrhosis</text><line x1="275.7" y1="499.2" x2="290.3" y2="499.2" stroke="#1f1d8c" stroke-width="1.5"/><text x="298.7" y="503.1" font-size="11" font-weight="bold" text-anchor="start" fill="#000" >AFP</text><line x1="275.7" y1="515.2" x2="290.3" y2="515.2" stroke="#f2603f" stroke-width="1.5"/><text x="298.7" y="519.1" font-size="11" font-weight="bold" text-anchor="start" fill="#000" >PIVKA-II</text><line x1="275.7" y1="531.2" x2="290.3" y2="531.2" stroke="#1b9a4e" stroke-width="1.6"/><text x="298.7" y="535.1" font-size="11" font-weight="bold" text-anchor="start" fill="#000" >AFP+PIVKA-II</text><line x1="275.7" y1="548" x2="290.3" y2="548" stroke="#111" stroke-width="1.6"/><text x="298.7" y="551.9" font-size="11" font-weight="bold" text-anchor="start" fill="#000" >Identity%</text><g stroke="#8a8a8a" stroke-width="1" fill="none"><rect x="269.8" y="580.5" width="295.3" height="86.5"/><line x1="269.8" y1="602.5" x2="441.3" y2="602.5"/><line x1="269.8" y1="624.4" x2="441.3" y2="624.4"/><line x1="269.8" y1="646.2" x2="441.3" y2="646.2"/><line x1="441.3" y1="602.5" x2="565.1" y2="602.5"/><line x1="327.7" y1="580.5" x2="327.7" y2="667"/><line x1="372.1" y1="580.5" x2="372.1" y2="667"/><line x1="441.3" y1="580.5" x2="441.3" y2="667"/><line x1="480.6" y1="602.5" x2="480.6" y2="667"/><line x1="523" y1="602.5" x2="523" y2="667"/><line x1="441.3" y1="646.2" x2="480.6" y2="646.2"/><line x1="480.6" y1="624.4" x2="523" y2="624.4"/></g><text x="298.75" y="595.8" font-size="10.2" font-weight="bold" text-anchor="middle" fill="#111" stroke="#111" stroke-width="0.3" textLength="28.79" lengthAdjust="spacingAndGlyphs">Group</text><text x="349.9" y="595.8" font-size="10.2" font-weight="bold" text-anchor="middle" fill="#111" stroke="#111" stroke-width="0.3" textLength="33.61" lengthAdjust="spacingAndGlyphs">AUROC</text><text x="406.7" y="595.8" font-size="10.2" font-weight="bold" text-anchor="middle" fill="#111" stroke="#111" stroke-width="0.3" textLength="30.62" lengthAdjust="spacingAndGlyphs">95% CI</text><text x="503.2" y="595.8" font-size="10.2" font-weight="bold" text-anchor="middle" fill="#111" stroke="#111" stroke-width="0.3" textLength="71.02" lengthAdjust="spacingAndGlyphs">P(DeLong test )</text><text x="298.75" y="617.75" font-size="10.2" font-weight="bold" text-anchor="middle" fill="#111" stroke="#111" stroke-width="0.3" textLength="17.31" lengthAdjust="spacingAndGlyphs">AFP</text><text x="349.9" y="617.75" font-size="10.2" font-weight="bold" text-anchor="middle" fill="#111" stroke="#111" stroke-width="0.3" textLength="25.26" lengthAdjust="spacingAndGlyphs">0.753</text><text x="406.7" y="617.75" font-size="10.2" font-weight="bold" text-anchor="middle" fill="#111" stroke="#111" stroke-width="0.3" textLength="54.91" lengthAdjust="spacingAndGlyphs">0.726-0.779</text><text x="298.75" y="639.6" font-size="10.2" font-weight="bold" text-anchor="middle" fill="#111" stroke="#111" stroke-width="0.3" textLength="37.77" lengthAdjust="spacingAndGlyphs">PIVKA-II</text><text x="349.9" y="639.6" font-size="10.2" font-weight="bold" text-anchor="middle" fill="#111" stroke="#111" stroke-width="0.3" textLength="25.26" lengthAdjust="spacingAndGlyphs">0.809</text><text x="406.7" y="639.6" font-size="10.2" font-weight="bold" text-anchor="middle" fill="#111" stroke="#111" stroke-width="0.3" textLength="54.91" lengthAdjust="spacingAndGlyphs">0.785-0.832</text><text x="298.75" y="660.9" font-size="10.2" font-weight="bold" text-anchor="middle" fill="#111" stroke="#111" stroke-width="0.3" textLength="17.75" lengthAdjust="spacingAndGlyphs">A+P</text><text x="349.9" y="660.9" font-size="10.2" font-weight="bold" text-anchor="middle" fill="#111" stroke="#111" stroke-width="0.3" textLength="25.26" lengthAdjust="spacingAndGlyphs">0.830</text><text x="406.7" y="660.9" font-size="10.2" font-weight="bold" text-anchor="middle" fill="#111" stroke="#111" stroke-width="0.3" textLength="54.91" lengthAdjust="spacingAndGlyphs">0.809-0.851</text><text x="460.95" y="628.65" font-size="10.2" font-weight="bold" text-anchor="middle" fill="#111" stroke="#111" stroke-width="0.3" textLength="25.26" lengthAdjust="spacingAndGlyphs">0.001</text><text x="501.8" y="650" font-size="10.2" font-weight="bold" text-anchor="middle" fill="#111" stroke="#111" stroke-width="0.3" textLength="30.94" lengthAdjust="spacingAndGlyphs">&lt;0.001</text><text x="544.05" y="639.05" font-size="10.2" font-weight="bold" text-anchor="middle" fill="#111" stroke="#111" stroke-width="0.3" textLength="30.94" lengthAdjust="spacingAndGlyphs">&lt;0.001</text><line x1="108.2" y1="863.5" x2="244" y2="726.6" stroke="#111" stroke-width="1.5"/><polyline points="108.2,863.5 108.2,862.4 108.2,861.31 108.2,860.21 108.2,859.12 108.2,858.02 108.2,856.93 108.2,855.83 108.2,854.74 108.2,853.64 108.2,852.55 108.2,851.45 108.2,850.36 108.2,849.26 108.2,848.17 108.2,847.07 108.2,845.98 108.2,844.88 108.2,843.79 108.2,842.69 108.2,841.6 108.2,840.5 108.2,839.41 108.2,838.31 108.2,837.22 108.2,836.12 108.2,835.02 108.2,833.93 108.2,832.83 108.2,831.74 108.2,830.64 108.2,829.55 108.2,828.45 108.2,827.36 108.2,826.26 108.2,825.17 108.2,824.07 108.2,822.98 109.29,822.98 109.29,821.88 109.29,820.79 109.29,819.69 109.29,818.6 109.29,817.5 110.37,817.5 110.37,816.41 110.37,815.31 110.37,814.22 110.37,813.12 110.37,812.03 111.46,812.03 111.46,810.93 111.46,809.84 112.55,809.84 112.55,808.74 113.63,808.74 113.63,807.64 114.72,807.64 114.72,806.55 114.72,805.45 115.8,805.45 115.8,804.36 116.89,804.36 116.89,803.26 117.98,803.26 117.98,802.17 119.06,802.17 119.06,801.07 120.15,801.07 121.24,801.07 121.24,799.98 122.32,799.98 122.32,798.88 123.41,798.88 123.41,797.79 124.5,797.79 124.5,796.69 125.58,796.69 126.67,796.69 127.76,796.69 127.76,795.6 128.84,795.6 129.93,795.6 131.01,795.6 131.01,794.5 132.1,794.5 133.19,794.5 133.19,793.41 134.27,793.41 135.36,793.41 135.36,792.31 136.45,792.31 137.53,792.31 137.53,791.22 138.62,791.22 138.62,790.12 139.71,790.12 140.79,790.12 140.79,789.03 141.88,789.03 141.88,787.93 142.96,787.93 144.05,787.93 144.05,786.84 145.14,786.84 145.14,785.74 146.22,785.74 146.22,784.65 147.31,784.65 147.31,783.55 148.4,783.55 149.48,783.55 149.48,782.46 150.57,782.46 150.57,781.36 151.66,781.36 151.66,780.26 152.74,780.26 152.74,779.17 153.83,779.17 153.83,778.07 154.92,778.07 156,778.07 156,776.98 157.09,776.98 157.09,775.88 158.17,775.88 159.26,775.88 159.26,774.79 160.35,774.79 160.35,773.69 161.43,773.69 161.43,772.6 162.52,772.6 163.61,772.6 163.61,771.5 164.69,771.5 164.69,770.41 165.78,770.41 165.78,769.31 166.87,769.31 167.95,769.31 167.95,768.22 169.04,768.22 169.04,767.12 170.12,767.12 171.21,767.12 171.21,766.03 172.3,766.03 172.3,764.93 173.38,764.93 174.47,764.93 174.47,763.84 175.56,763.84 176.64,763.84 176.64,762.74 177.73,762.74 177.73,761.65 178.82,761.65 179.9,761.65 179.9,760.55 180.99,760.55 180.99,759.46 182.08,759.46 182.08,758.36 183.16,758.36 184.25,758.36 184.25,757.27 185.33,757.27 185.33,756.17 186.42,756.17 187.51,756.17 187.51,755.08 188.59,755.08 188.59,753.98 189.68,753.98 190.77,753.98 190.77,752.88 191.85,752.88 191.85,751.79 192.94,751.79 194.03,751.79 194.03,750.69 195.11,750.69 195.11,749.6 196.2,749.6 196.2,748.5 197.28,748.5 198.37,748.5 198.37,747.41 199.46,747.41 199.46,746.31 200.54,746.31 201.63,746.31 201.63,745.22 202.72,745.22 202.72,744.12 203.8,744.12 204.89,744.12 204.89,743.03 205.98,743.03 207.06,743.03 207.06,741.93 208.15,741.93 209.24,741.93 210.32,741.93 210.32,740.84 211.41,740.84 212.49,740.84 212.49,739.74 213.58,739.74 214.67,739.74 215.75,739.74 215.75,738.65 216.84,738.65 217.93,738.65 217.93,737.55 219.01,737.55 220.1,737.55 221.19,737.55 221.19,736.46 222.27,736.46 223.36,736.46 223.36,735.36 224.44,735.36 225.53,735.36 226.62,735.36 226.62,734.27 227.7,734.27 228.79,734.27 228.79,733.17 229.88,733.17 230.96,733.17 230.96,732.08 232.05,732.08 233.14,732.08 233.14,730.98 234.22,730.98 235.31,730.98 235.31,729.89 236.4,729.89 237.48,729.89 237.48,728.79 238.57,728.79 239.65,728.79 240.74,728.79 240.74,727.7 241.83,727.7 242.91,727.7 242.91,726.6 244,726.6" fill="none" stroke="#1f1d8c" stroke-width="1.4" stroke-linejoin="round"/><polyline points="108.2,863.5 108.2,862.4 108.2,861.31 108.2,860.21 108.2,859.12 108.2,858.02 108.2,856.93 108.2,855.83 108.2,854.74 108.2,853.64 108.2,852.55 108.2,851.45 108.2,850.36 108.2,849.26 108.2,848.17 108.2,847.07 108.2,845.98 108.2,844.88 109.29,844.88 109.29,843.79 109.29,842.69 109.29,841.6 109.29,840.5 109.29,839.41 109.29,838.31 109.29,837.22 109.29,836.12 109.29,835.02 109.29,833.93 109.29,832.83 110.37,832.83 110.37,831.74 110.37,830.64 110.37,829.55 110.37,828.45 110.37,827.36 110.37,826.26 110.37,825.17 110.37,824.07 110.37,822.98 111.46,822.98 111.46,821.88 111.46,820.79 111.46,819.69 111.46,818.6 111.46,817.5 111.46,816.41 111.46,815.31 112.55,815.31 112.55,814.22 112.55,813.12 112.55,812.03 112.55,810.93 112.55,809.84 112.55,808.74 112.55,807.64 113.63,807.64 113.63,806.55 113.63,805.45 113.63,804.36 113.63,803.26 113.63,802.17 113.63,801.07 114.72,801.07 114.72,799.98 114.72,798.88 114.72,797.79 114.72,796.69 114.72,795.6 115.8,795.6 115.8,794.5 115.8,793.41 115.8,792.31 115.8,791.22 116.89,791.22 116.89,790.12 116.89,789.03 116.89,787.93 116.89,786.84 116.89,785.74 117.98,785.74 117.98,784.65 117.98,783.55 119.06,783.55 119.06,782.46 119.06,781.36 120.15,781.36 120.15,780.26 120.15,779.17 121.24,779.17 121.24,778.07 121.24,776.98 122.32,776.98 122.32,775.88 123.41,775.88 123.41,774.79 123.41,773.69 124.5,773.69 124.5,772.6 125.58,772.6 125.58,771.5 126.67,771.5 126.67,770.41 126.67,769.31 127.76,769.31 127.76,768.22 128.84,768.22 128.84,767.12 129.93,767.12 129.93,766.03 131.01,766.03 131.01,764.93 132.1,764.93 133.19,764.93 133.19,763.84 134.27,763.84 134.27,762.74 135.36,762.74 136.45,762.74 136.45,761.65 137.53,761.65 137.53,760.55 138.62,760.55 139.71,760.55 139.71,759.46 140.79,759.46 140.79,758.36 141.88,758.36 142.96,758.36 142.96,757.27 144.05,757.27 144.05,756.17 145.14,756.17 146.22,756.17 146.22,755.08 147.31,755.08 148.4,755.08 148.4,753.98 149.48,753.98 149.48,752.88 150.57,752.88 151.66,752.88 151.66,751.79 152.74,751.79 153.83,751.79 153.83,750.69 154.92,750.69 154.92,749.6 156,749.6 157.09,749.6 157.09,748.5 158.17,748.5 159.26,748.5 159.26,747.41 160.35,747.41 161.43,747.41 161.43,746.31 162.52,746.31 163.61,746.31 164.69,746.31 164.69,745.22 165.78,745.22 166.87,745.22 167.95,745.22 169.04,745.22 169.04,744.12 170.12,744.12 171.21,744.12 172.3,744.12 172.3,743.03 173.38,743.03 174.47,743.03 175.56,743.03 175.56,741.93 176.64,741.93 177.73,741.93 178.82,741.93 178.82,740.84 179.9,740.84 180.99,740.84 182.08,740.84 182.08,739.74 183.16,739.74 184.25,739.74 185.33,739.74 185.33,738.65 186.42,738.65 187.51,738.65 188.59,738.65 188.59,737.55 189.68,737.55 190.77,737.55 191.85,737.55 192.94,737.55 192.94,736.46 194.03,736.46 195.11,736.46 196.2,736.46 197.28,736.46 198.37,736.46 198.37,735.36 199.46,735.36 200.54,735.36 201.63,735.36 202.72,735.36 202.72,734.27 203.8,734.27 204.89,734.27 205.98,734.27 207.06,734.27 207.06,733.17 208.15,733.17 209.24,733.17 210.32,733.17 210.32,732.08 211.41,732.08 212.49,732.08 213.58,732.08 214.67,732.08 214.67,730.98 215.75,730.98 216.84,730.98 217.93,730.98 219.01,730.98 220.1,730.98 220.1,729.89 221.19,729.89 222.27,729.89 223.36,729.89 224.44,729.89 225.53,729.89 225.53,728.79 226.62,728.79 227.7,728.79 228.79,728.79 229.88,728.79 230.96,728.79 232.05,728.79 232.05,727.7 233.14,727.7 234.22,727.7 235.31,727.7 236.4,727.7 237.48,727.7 238.57,727.7 239.65,727.7 239.65,726.6 240.74,726.6 241.83,726.6 242.91,726.6 244,726.6" fill="none" stroke="#f2603f" stroke-width="1.5" stroke-linejoin="round"/><polyline points="108.2,863.5 108.2,862.4 108.2,861.31 108.2,860.21 108.2,859.12 108.2,858.02 108.2,856.93 108.2,855.83 108.2,854.74 108.2,853.64 108.2,852.55 108.2,851.45 108.2,850.36 108.2,849.26 108.2,848.17 108.2,847.07 108.2,845.98 108.2,844.88 108.2,843.79 108.2,842.69 108.2,841.6 108.2,840.5 108.2,839.41 108.2,838.31 108.2,837.22 108.2,836.12 108.2,835.02 108.2,833.93 108.2,832.83 108.2,831.74 108.2,830.64 108.2,829.55 108.2,828.45 108.2,827.36 108.2,826.26 109.29,826.26 109.29,825.17 109.29,824.07 109.29,822.98 109.29,821.88 109.29,820.79 109.29,819.69 109.29,818.6 109.29,817.5 109.29,816.41 109.29,815.31 109.29,814.22 109.29,813.12 110.37,813.12 110.37,812.03 110.37,810.93 110.37,809.84 110.37,808.74 110.37,807.64 110.37,806.55 110.37,805.45 110.37,804.36 110.37,803.26 111.46,803.26 111.46,802.17 111.46,801.07 111.46,799.98 111.46,798.88 111.46,797.79 111.46,796.69 111.46,795.6 111.46,794.5 112.55,794.5 112.55,793.41 112.55,792.31 112.55,791.22 112.55,790.12 112.55,789.03 113.63,789.03 113.63,787.93 113.63,786.84 113.63,785.74 114.72,785.74 114.72,784.65 114.72,783.55 114.72,782.46 114.72,781.36 115.8,781.36 115.8,780.26 115.8,779.17 115.8,778.07 116.89,778.07 116.89,776.98 117.98,776.98 117.98,775.88 119.06,775.88 119.06,774.79 119.06,773.69 120.15,773.69 120.15,772.6 121.24,772.6 121.24,771.5 122.32,771.5 122.32,770.41 123.41,770.41 123.41,769.31 123.41,768.22 124.5,768.22 124.5,767.12 125.58,767.12 125.58,766.03 126.67,766.03 127.76,766.03 127.76,764.93 128.84,764.93 128.84,763.84 129.93,763.84 129.93,762.74 131.01,762.74 131.01,761.65 132.1,761.65 132.1,760.55 133.19,760.55 134.27,760.55 134.27,759.46 135.36,759.46 135.36,758.36 136.45,758.36 137.53,758.36 137.53,757.27 138.62,757.27 138.62,756.17 139.71,756.17 140.79,756.17 141.88,756.17 141.88,755.08 142.96,755.08 144.05,755.08 144.05,753.98 145.14,753.98 146.22,753.98 147.31,753.98 147.31,752.88 148.4,752.88 149.48,752.88 150.57,752.88 150.57,751.79 151.66,751.79 152.74,751.79 152.74,750.69 153.83,750.69 154.92,750.69 154.92,749.6 156,749.6 157.09,749.6 157.09,748.5 158.17,748.5 159.26,748.5 159.26,747.41 160.35,747.41 161.43,747.41 161.43,746.31 162.52,746.31 163.61,746.31 164.69,746.31 164.69,745.22 165.78,745.22 166.87,745.22 167.95,745.22 169.04,745.22 169.04,744.12 170.12,744.12 171.21,744.12 172.3,744.12 173.38,744.12 173.38,743.03 174.47,743.03 175.56,743.03 176.64,743.03 177.73,743.03 177.73,741.93 178.82,741.93 179.9,741.93 180.99,741.93 182.08,741.93 182.08,740.84 183.16,740.84 184.25,740.84 185.33,740.84 186.42,740.84 186.42,739.74 187.51,739.74 188.59,739.74 189.68,739.74 190.77,739.74 190.77,738.65 191.85,738.65 192.94,738.65 194.03,738.65 195.11,738.65 195.11,737.55 196.2,737.55 197.28,737.55 198.37,737.55 199.46,737.55 199.46,736.46 200.54,736.46 201.63,736.46 202.72,736.46 203.8,736.46 204.89,736.46 204.89,735.36 205.98,735.36 207.06,735.36 208.15,735.36 209.24,735.36 209.24,734.27 210.32,734.27 211.41,734.27 212.49,734.27 213.58,734.27 213.58,733.17 214.67,733.17 215.75,733.17 216.84,733.17 217.93,733.17 217.93,732.08 219.01,732.08 220.1,732.08 221.19,732.08 222.27,732.08 222.27,730.98 223.36,730.98 224.44,730.98 225.53,730.98 226.62,730.98 226.62,729.89 227.7,729.89 228.79,729.89 229.88,729.89 230.96,729.89 230.96,728.79 232.05,728.79 233.14,728.79 234.22,728.79 235.31,728.79 235.31,727.7 236.4,727.7 237.48,727.7 238.57,727.7 239.65,727.7 240.74,727.7 241.83,727.7 241.83,726.6 242.91,726.6 244,726.6" fill="none" stroke="#1b9a4e" stroke-width="1.5" stroke-linejoin="round"/><g stroke="#222" stroke-width="1.4" fill="none" stroke-linecap="square"><rect x="108.2" y="726.6" width="135.8" height="136.9"/><line x1="104.6" y1="863.5" x2="108.2" y2="863.5"/><line x1="108.2" y1="863.5" x2="108.2" y2="867"/><line x1="104.6" y1="836.12" x2="108.2" y2="836.12"/><line x1="135.36" y1="863.5" x2="135.36" y2="867"/><line x1="104.6" y1="808.74" x2="108.2" y2="808.74"/><line x1="162.52" y1="863.5" x2="162.52" y2="867"/><line x1="104.6" y1="781.36" x2="108.2" y2="781.36"/><line x1="189.68" y1="863.5" x2="189.68" y2="867"/><line x1="104.6" y1="753.98" x2="108.2" y2="753.98"/><line x1="216.84" y1="863.5" x2="216.84" y2="867"/><line x1="104.6" y1="726.6" x2="108.2" y2="726.6"/><line x1="244" y1="863.5" x2="244" y2="867"/></g><text x="102.3" y="867.1" font-size="10" font-weight="bold" text-anchor="end" fill="#000" >0</text><text x="108.2" y="878.6" font-size="10" font-weight="bold" text-anchor="middle" fill="#000" >0</text><text x="102.3" y="839.72" font-size="10" font-weight="bold" text-anchor="end" fill="#000" >20</text><text x="135.36" y="878.6" font-size="10" font-weight="bold" text-anchor="middle" fill="#000" >20</text><text x="102.3" y="812.34" font-size="10" font-weight="bold" text-anchor="end" fill="#000" >40</text><text x="162.52" y="878.6" font-size="10" font-weight="bold" text-anchor="middle" fill="#000" >40</text><text x="102.3" y="784.96" font-size="10" font-weight="bold" text-anchor="end" fill="#000" >60</text><text x="189.68" y="878.6" font-size="10" font-weight="bold" text-anchor="middle" fill="#000" >60</text><text x="102.3" y="757.58" font-size="10" font-weight="bold" text-anchor="end" fill="#000" >80</text><text x="216.84" y="878.6" font-size="10" font-weight="bold" text-anchor="middle" fill="#000" >80</text><text x="102.3" y="730.2" font-size="10" font-weight="bold" text-anchor="end" fill="#000" >100</text><text x="244" y="878.6" font-size="10" font-weight="bold" text-anchor="middle" fill="#000" >100</text><text x="80" y="795" font-size="13" font-weight="bold" text-anchor="middle" fill="#000" transform="rotate(-90 80 795)">Sensitivity%</text><text x="176" y="895.5" font-size="13" font-weight="bold" text-anchor="middle" fill="#000" >100% - Specificity%</text><text x="107.3" y="721.4" font-size="9" font-weight="bold" text-anchor="start" fill="#000" >all HCC VS Cirrhosis+Hepatitis</text><line x1="277.5" y1="727.5" x2="291.6" y2="727.5" stroke="#1f1d8c" stroke-width="1.5"/><text x="300.9" y="731.4" font-size="11" font-weight="bold" text-anchor="start" fill="#000" >AFP</text><line x1="277.5" y1="744" x2="291.6" y2="744" stroke="#f2603f" stroke-width="1.5"/><text x="300.9" y="747.9" font-size="11" font-weight="bold" text-anchor="start" fill="#000" >PIVKA-II</text><line x1="277.5" y1="760.8" x2="291.6" y2="760.8" stroke="#1b9a4e" stroke-width="1.6"/><text x="300.9" y="764.7" font-size="11" font-weight="bold" text-anchor="start" fill="#000" >AFP+PIVKA-II</text><line x1="277.5" y1="777.7" x2="291.6" y2="777.7" stroke="#111" stroke-width="1.6"/><text x="300.9" y="781.6" font-size="11" font-weight="bold" text-anchor="start" fill="#000" >Identity%</text><g stroke="#8a8a8a" stroke-width="1" fill="none"><rect x="271.1" y="808.2" width="293.4" height="86.2"/><line x1="271.1" y1="830.3" x2="441.3" y2="830.3"/><line x1="271.1" y1="852.2" x2="441.3" y2="852.2"/><line x1="271.1" y1="873.6" x2="441.3" y2="873.6"/><line x1="441.3" y1="830.3" x2="564.5" y2="830.3"/><line x1="325.3" y1="808.2" x2="325.3" y2="894.4"/><line x1="372.7" y1="808.2" x2="372.7" y2="894.4"/><line x1="441.3" y1="808.2" x2="441.3" y2="894.4"/><line x1="484.2" y1="830.3" x2="484.2" y2="894.4"/><line x1="520.8" y1="830.3" x2="520.8" y2="894.4"/><line x1="441.3" y1="873.6" x2="484.2" y2="873.6"/><line x1="484.2" y1="852.2" x2="520.8" y2="852.2"/></g><text x="298.2" y="823.55" font-size="10.2" font-weight="bold" text-anchor="middle" fill="#111" stroke="#111" stroke-width="0.3" textLength="28.79" lengthAdjust="spacingAndGlyphs">Group</text><text x="349" y="823.55" font-size="10.2" font-weight="bold" text-anchor="middle" fill="#111" stroke="#111" stroke-width="0.3" textLength="33.61" lengthAdjust="spacingAndGlyphs">AUROC</text><text x="407" y="823.55" font-size="10.2" font-weight="bold" text-anchor="middle" fill="#111" stroke="#111" stroke-width="0.3" textLength="30.62" lengthAdjust="spacingAndGlyphs">95% CI</text><text x="502.9" y="823.55" font-size="10.2" font-weight="bold" text-anchor="middle" fill="#111" stroke="#111" stroke-width="0.3" textLength="68.45" lengthAdjust="spacingAndGlyphs">P(DeLong test)</text><text x="298.2" y="845.55" font-size="10.2" font-weight="bold" text-anchor="middle" fill="#111" stroke="#111" stroke-width="0.3" textLength="17.31" lengthAdjust="spacingAndGlyphs">AFP</text><text x="349" y="845.55" font-size="10.2" font-weight="bold" text-anchor="middle" fill="#111" stroke="#111" stroke-width="0.3" textLength="25.26" lengthAdjust="spacingAndGlyphs">0.724</text><text x="407" y="845.55" font-size="10.2" font-weight="bold" text-anchor="middle" fill="#111" stroke="#111" stroke-width="0.3" textLength="54.91" lengthAdjust="spacingAndGlyphs">0.701-0.747</text><text x="298.2" y="867.2" font-size="10.2" font-weight="bold" text-anchor="middle" fill="#111" stroke="#111" stroke-width="0.3" textLength="37.77" lengthAdjust="spacingAndGlyphs">PIVKA-II</text><text x="349" y="867.2" font-size="10.2" font-weight="bold" text-anchor="middle" fill="#111" stroke="#111" stroke-width="0.3" textLength="25.26" lengthAdjust="spacingAndGlyphs">0.830</text><text x="407" y="867.2" font-size="10.2" font-weight="bold" text-anchor="middle" fill="#111" stroke="#111" stroke-width="0.3" textLength="54.91" lengthAdjust="spacingAndGlyphs">0.810-0.849</text><text x="298.2" y="888.3" font-size="10.2" font-weight="bold" text-anchor="middle" fill="#111" stroke="#111" stroke-width="0.3" textLength="17.75" lengthAdjust="spacingAndGlyphs">A+P</text><text x="349" y="888.3" font-size="10.2" font-weight="bold" text-anchor="middle" fill="#111" stroke="#111" stroke-width="0.3" textLength="25.26" lengthAdjust="spacingAndGlyphs">0.840</text><text x="407" y="888.3" font-size="10.2" font-weight="bold" text-anchor="middle" fill="#111" stroke="#111" stroke-width="0.3" textLength="54.91" lengthAdjust="spacingAndGlyphs">0.820-0.859</text><text x="462.75" y="856.25" font-size="10.2" font-weight="bold" text-anchor="middle" fill="#111" stroke="#111" stroke-width="0.3" textLength="30.94" lengthAdjust="spacingAndGlyphs">&lt;0.001</text><text x="502.5" y="877.6" font-size="10.2" font-weight="bold" text-anchor="middle" fill="#111" stroke="#111" stroke-width="0.3" textLength="25.26" lengthAdjust="spacingAndGlyphs">0.018</text><text x="542.65" y="866.65" font-size="10.2" font-weight="bold" text-anchor="middle" fill="#111" stroke="#111" stroke-width="0.3" textLength="30.94" lengthAdjust="spacingAndGlyphs">&lt;0.001</text>
</svg></body></html>
